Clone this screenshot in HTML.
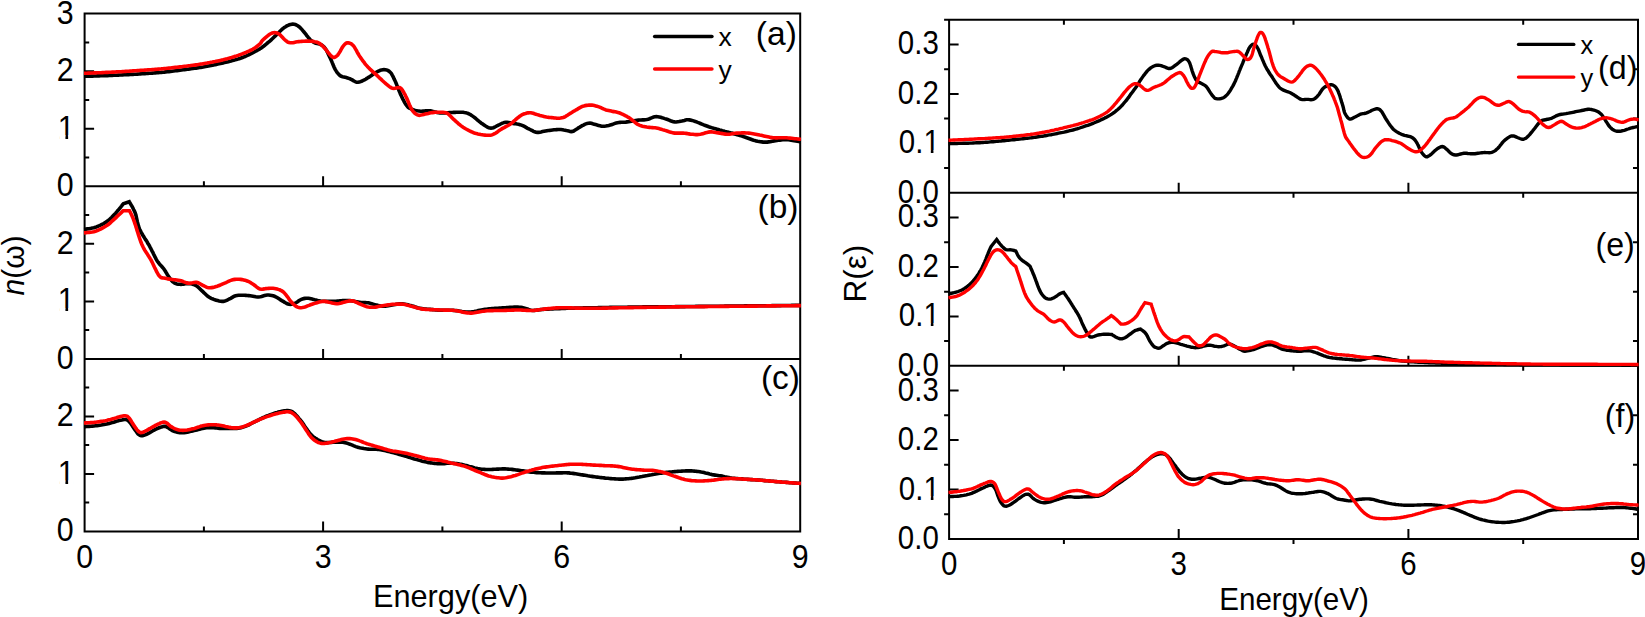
<!DOCTYPE html>
<html><head><meta charset="utf-8"><title>Optical spectra</title>
<style>html,body{margin:0;padding:0;background:#fff}svg{display:block}</style></head>
<body>
<svg width="1645" height="617" viewBox="0 0 1645 617">
<rect width="1645" height="617" fill="#fff"/>
<path d="M83.6 13.6L801.2 13.6M84.6 186.3L800.2 186.3M84.6 358.9L800.2 358.9M83.6 531.4L801.2 531.4M84.6 13.6L84.6 531.4M800.2 13.6L800.2 531.4M323.1 186.3L323.1 176.3M561.7 186.3L561.7 176.3M203.9 186.3L203.9 181.3M442.4 186.3L442.4 181.3M680.9 186.3L680.9 181.3M323.1 358.9L323.1 348.9M561.7 358.9L561.7 348.9M203.9 358.9L203.9 353.9M442.4 358.9L442.4 353.9M680.9 358.9L680.9 353.9M323.1 531.4L323.1 521.4M561.7 531.4L561.7 521.4M203.9 531.4L203.9 526.4M442.4 531.4L442.4 526.4M680.9 531.4L680.9 526.4M84.6 128.7L94.1 128.7M84.6 71.2L94.1 71.2M84.6 157.5L89.2 157.5M84.6 100.0L89.2 100.0M84.6 42.4L89.2 42.4M84.6 301.4L94.1 301.4M84.6 243.8L94.1 243.8M84.6 330.1L89.2 330.1M84.6 272.6L89.2 272.6M84.6 215.1L89.2 215.1M84.6 473.9L94.1 473.9M84.6 416.4L94.1 416.4M84.6 502.6L89.2 502.6M84.6 445.1L89.2 445.1M84.6 387.6L89.2 387.6M944.1 19.7L1639.0 19.7M949.1 192.8L1638.0 192.8M949.1 365.8L1638.0 365.8M948.1 539.1L1639.0 539.1M949.1 19.7L949.1 539.1M1638.0 19.7L1638.0 539.1M1178.7 192.8L1178.7 182.8M1408.4 192.8L1408.4 182.8M1178.7 365.8L1178.7 355.8M1408.4 365.8L1408.4 355.8M1178.7 539.1L1178.7 529.1M1408.4 539.1L1408.4 529.1M1063.9 19.7L1063.9 24.7M1293.5 19.7L1293.5 24.7M1523.2 19.7L1523.2 24.7M1063.9 192.8L1063.9 197.8M1293.5 192.8L1293.5 197.8M1523.2 192.8L1523.2 197.8M1063.9 365.8L1063.9 370.8M1293.5 365.8L1293.5 370.8M1523.2 365.8L1523.2 370.8M1063.9 539.1L1063.9 544.1M1293.5 539.1L1293.5 544.1M1523.2 539.1L1523.2 544.1M949.1 143.3L958.6 143.3M949.1 93.9L958.6 93.9M949.1 44.4L958.6 44.4M949.1 168.1L944.1 168.1M1638.0 168.1L1633.0 168.1M949.1 118.6L944.1 118.6M1638.0 118.6L1633.0 118.6M949.1 69.2L944.1 69.2M1638.0 69.2L1633.0 69.2M949.1 316.4L958.6 316.4M949.1 266.9L958.6 266.9M949.1 217.5L958.6 217.5M949.1 341.1L944.1 341.1M1638.0 341.1L1633.0 341.1M949.1 291.7L944.1 291.7M1638.0 291.7L1633.0 291.7M949.1 242.2L944.1 242.2M1638.0 242.2L1633.0 242.2M949.1 489.6L958.6 489.6M949.1 440.1L958.6 440.1M949.1 390.6L958.6 390.6M949.1 514.3L944.1 514.3M1638.0 514.3L1633.0 514.3M949.1 464.8L944.1 464.8M1638.0 464.8L1633.0 464.8M949.1 415.3L944.1 415.3M1638.0 415.3L1633.0 415.3" stroke="#000" stroke-width="2.0" fill="none"/>
<svg x="83.6" y="13.6" width="717.6" height="517.8" viewBox="83.6 13.6 717.6 517.8" overflow="hidden">
<path d="M83.9 76.4L84.0 76.4L84.8 76.3L85.8 76.3L86.9 76.3L88.2 76.2L89.5 76.2L90.9 76.1L92.5 76.1L94.1 76.0L95.7 76.0L97.4 75.9L99.1 75.9L100.8 75.8L102.6 75.8L104.3 75.7L106.0 75.6L107.6 75.6L109.2 75.5L110.7 75.4L112.2 75.4L113.7 75.3L115.2 75.2L116.7 75.2L118.2 75.1L119.7 75.0L121.1 75.0L122.6 74.9L124.1 74.8L125.6 74.8L127.1 74.7L128.6 74.6L130.1 74.5L131.6 74.4L133.0 74.4L134.5 74.3L136.0 74.2L137.5 74.1L139.0 74.0L140.5 73.9L142.0 73.8L143.4 73.7L144.9 73.6L146.4 73.5L147.9 73.4L149.4 73.3L150.9 73.2L152.4 73.1L153.8 73.0L155.3 72.9L156.8 72.8L158.3 72.6L159.8 72.5L161.3 72.4L162.8 72.2L164.2 72.1L165.7 71.9L167.3 71.8L168.9 71.6L170.4 71.4L172.0 71.2L173.7 71.0L175.3 70.8L176.9 70.6L178.5 70.4L180.0 70.2L181.6 70.0L183.1 69.8L184.5 69.6L185.9 69.4L187.3 69.2L188.6 69.1L189.8 68.9L191.0 68.7L192.9 68.5L194.5 68.3L196.0 68.1L197.3 67.9L198.5 67.7L199.7 67.5L200.8 67.4L201.9 67.2L203.1 67.0L204.4 66.7L205.7 66.5L207.0 66.3L208.4 66.0L209.7 65.7L211.1 65.5L212.4 65.2L213.7 64.9L215.1 64.6L216.4 64.4L217.7 64.1L219.1 63.8L220.4 63.5L221.8 63.2L223.1 62.9L224.4 62.6L225.8 62.3L227.1 62.0L228.4 61.7L229.8 61.3L231.1 61.0L232.4 60.6L233.8 60.3L235.1 59.9L236.5 59.5L237.8 59.1L239.1 58.7L240.5 58.3L241.8 57.8L243.1 57.3L244.5 56.7L245.9 56.2L247.3 55.5L248.7 54.8L250.1 54.1L251.6 53.4L253.0 52.7L254.3 52.0L255.6 51.3L256.8 50.6L257.9 50.0L259.4 49.2L260.5 48.4L261.6 47.7L262.5 47.0L263.6 46.2L264.8 45.3L265.8 44.5L266.8 43.6L267.8 42.7L268.9 41.8L270.1 40.8L271.2 39.8L272.3 38.8L273.4 37.7L274.5 36.7L275.6 35.7L276.7 34.6L277.8 33.5L278.9 32.4L280.0 31.3L281.1 30.2L282.2 29.2L283.2 28.3L284.3 27.5L285.6 26.7L286.8 25.9L288.1 25.3L289.4 24.8L290.5 24.5L291.7 24.2L292.8 24.1L294.1 24.2L295.4 24.5L296.5 25.0L297.7 25.7L298.8 26.5L299.9 27.4L300.9 28.4L302.0 29.6L303.0 30.8L304.0 32.0L304.9 33.1L305.8 34.2L306.6 35.3L307.4 36.3L308.2 37.4L309.0 38.3L309.8 39.2L310.7 40.1L311.7 40.9L312.6 41.6L313.6 42.3L314.7 42.8L315.8 43.2L317.1 43.5L318.3 43.7L319.6 44.0L320.7 44.5L321.8 45.1L322.8 45.8L323.7 46.6L324.6 47.6L325.6 48.9L326.2 49.9L326.8 50.9L327.4 52.1L328.0 53.4L328.6 54.7L329.2 56.0L329.8 57.3L330.5 58.6L331.1 60.0L331.7 61.4L332.3 62.9L332.9 64.3L333.5 65.8L334.1 67.2L334.7 68.4L335.3 69.6L336.1 70.9L336.9 72.1L337.7 73.2L338.5 74.1L339.3 74.9L340.2 75.7L341.3 76.3L342.6 76.7L343.9 77.0L345.1 77.3L346.3 77.6L347.5 78.0L348.7 78.4L349.9 78.8L351.1 79.3L352.2 79.9L353.3 80.6L354.5 81.3L355.6 81.9L356.7 82.2L358.0 82.3L359.3 82.1L360.6 81.6L362.1 81.0L363.2 80.5L364.4 79.9L365.6 79.2L366.9 78.4L368.1 77.6L369.4 76.9L370.6 76.1L371.8 75.2L373.0 74.3L374.2 73.5L375.4 72.7L376.7 72.0L377.9 71.4L379.1 70.8L380.4 70.3L381.6 69.9L382.8 69.7L384.0 69.6L385.3 69.7L386.5 69.9L387.7 70.4L388.9 71.1L390.0 72.0L390.8 72.8L391.5 73.8L392.1 74.9L392.8 76.1L393.5 77.5L394.1 78.9L394.9 80.5L395.4 81.6L395.9 82.8L396.5 84.2L397.0 85.5L397.6 86.9L398.1 88.4L398.7 89.8L399.3 91.2L399.9 92.6L400.4 93.9L401.0 95.1L401.6 96.5L402.3 97.9L403.0 99.3L403.7 100.6L404.3 101.9L405.0 103.1L405.7 104.2L406.4 105.2L407.1 106.0L408.2 107.3L409.4 108.1L410.6 108.7L411.8 109.2L413.1 109.7L414.5 110.2L415.8 110.5L417.3 110.8L418.8 111.0L420.4 111.2L421.7 111.2L423.0 111.1L424.4 111.1L425.8 110.9L427.3 110.9L428.7 110.8L430.2 110.9L431.5 111.1L432.9 111.4L434.2 111.8L435.6 112.1L437.0 112.5L438.5 112.8L440.0 112.9L441.2 113.0L442.5 113.0L443.9 113.0L445.2 112.9L446.6 112.8L448.0 112.7L449.4 112.6L450.8 112.5L452.2 112.5L453.5 112.4L455.0 112.4L456.4 112.3L457.8 112.3L459.2 112.2L460.6 112.2L461.9 112.3L463.2 112.3L464.3 112.5L465.8 112.7L467.1 113.1L468.2 113.5L469.3 114.0L470.4 114.6L471.6 115.4L472.6 116.1L473.7 116.9L474.8 117.7L475.9 118.7L477.0 119.6L478.1 120.5L479.1 121.4L480.1 122.2L481.4 123.2L482.7 124.1L484.0 125.0L485.2 125.8L486.4 126.5L487.4 127.1L488.8 127.7L489.9 128.0L491.0 128.1L492.3 128.0L493.4 127.7L494.6 127.1L495.8 126.5L497.0 125.8L498.4 125.1L499.5 124.6L500.7 124.0L501.9 123.4L503.2 122.9L504.4 122.4L505.7 122.2L507.1 122.2L508.5 122.4L509.9 122.7L511.4 123.1L512.9 123.4L514.3 123.6L515.7 123.8L517.1 124.1L518.6 124.3L520.0 124.7L521.5 125.1L522.7 125.6L523.9 126.2L525.2 126.9L526.4 127.6L527.6 128.3L528.8 128.9L530.0 129.5L531.2 130.1L532.4 130.7L533.5 131.3L534.7 131.8L535.9 132.2L537.3 132.4L538.5 132.4L539.8 132.2L541.1 132.0L542.5 131.6L544.0 131.3L545.5 131.0L547.0 130.7L548.3 130.5L549.6 130.4L551.0 130.2L552.5 130.0L553.9 129.8L555.4 129.7L556.7 129.6L558.0 129.5L559.1 129.5L560.9 129.5L562.5 129.7L563.8 130.0L565.1 130.2L566.4 130.5L567.7 130.7L568.9 131.1L570.1 131.4L571.2 131.6L572.5 131.4L573.7 131.0L574.8 130.3L576.0 129.5L577.3 128.7L578.5 127.8L579.8 127.1L581.0 126.4L582.2 125.7L583.4 125.1L584.7 124.4L585.9 123.9L587.2 123.4L588.3 123.2L589.9 123.1L591.3 123.3L592.8 123.8L594.2 124.2L595.6 124.6L597.1 125.0L598.5 125.4L600.0 125.8L601.5 126.2L602.9 126.3L604.4 126.3L605.8 126.1L607.3 125.8L608.8 125.5L610.2 125.1L611.4 124.8L612.6 124.3L613.7 123.9L614.9 123.4L616.2 123.0L617.5 122.7L618.8 122.5L620.1 122.4L621.5 122.3L622.9 122.2L624.4 122.2L625.8 122.1L627.2 121.9L628.6 121.7L630.0 121.5L631.4 121.2L632.8 121.0L634.2 120.7L635.6 120.4L637.0 120.2L638.3 120.1L639.7 120.0L641.1 120.0L642.5 119.9L643.9 119.9L645.3 119.7L646.7 119.5L648.1 119.2L649.5 118.7L650.9 118.1L652.2 117.6L653.6 117.1L655.0 116.8L656.4 116.6L657.8 116.7L659.2 116.9L660.6 117.2L662.1 117.7L663.4 118.1L664.8 118.6L666.1 119.0L667.6 119.5L669.1 120.1L670.5 120.7L671.9 121.2L673.3 121.7L674.7 121.9L676.2 122.0L677.7 121.8L679.2 121.6L680.6 121.2L681.9 121.0L683.2 120.7L684.4 120.4L685.6 120.0L686.8 119.8L688.0 119.8L689.3 119.9L690.6 120.1L692.0 120.4L693.5 120.9L695.3 121.5L696.5 121.9L697.7 122.4L699.0 122.9L700.4 123.5L701.8 124.1L703.2 124.7L704.7 125.3L706.1 125.8L707.5 126.3L708.8 126.8L710.2 127.2L711.5 127.6L712.9 128.1L714.2 128.4L715.6 128.8L716.9 129.2L718.3 129.6L719.6 130.0L721.0 130.3L722.3 130.7L723.7 131.0L725.0 131.4L726.4 131.7L727.7 132.1L729.1 132.4L730.4 132.8L731.8 133.1L733.1 133.5L734.5 133.9L735.8 134.3L737.2 134.7L738.5 135.1L739.9 135.5L741.2 135.9L742.6 136.3L744.0 136.8L745.3 137.2L746.7 137.7L748.1 138.2L749.5 138.7L750.9 139.2L752.2 139.7L753.6 140.2L754.9 140.6L756.1 140.9L757.6 141.3L759.1 141.5L760.4 141.8L761.8 141.9L763.1 142.1L764.5 142.1L765.8 142.1L767.2 142.1L768.6 141.9L770.0 141.7L771.4 141.4L772.8 141.1L774.2 140.9L775.6 140.7L777.0 140.5L778.4 140.3L779.9 140.1L781.3 140.0L782.7 139.8L784.0 139.7L785.3 139.7L786.9 139.7L788.4 139.8L789.8 140.0L791.2 140.2L792.6 140.4L794.1 140.7L795.8 140.9L797.4 141.2L798.8 141.5L799.9 141.6L800.9 141.8" fill="none" stroke="#000" stroke-width="3.6" stroke-linejoin="miter" stroke-miterlimit="2.5" stroke-linecap="butt"/>
<path d="M83.9 73.3L84.0 73.3L84.8 73.3L85.8 73.2L86.9 73.2L88.2 73.1L89.5 73.1L90.9 73.0L92.5 73.0L94.1 72.9L95.7 72.9L97.4 72.8L99.1 72.7L100.8 72.7L102.6 72.6L104.3 72.5L106.0 72.4L107.6 72.4L109.2 72.3L110.7 72.2L112.2 72.1L113.7 72.1L115.2 72.0L116.7 71.9L118.2 71.8L119.7 71.7L121.1 71.7L122.6 71.6L124.1 71.5L125.6 71.4L127.1 71.3L128.6 71.2L130.1 71.1L131.6 71.0L133.0 70.9L134.5 70.8L136.0 70.7L137.5 70.6L139.0 70.5L140.5 70.4L142.0 70.3L143.4 70.2L144.9 70.1L146.4 70.0L147.9 69.9L149.4 69.8L150.9 69.7L152.4 69.6L153.8 69.5L155.3 69.4L156.8 69.3L158.3 69.1L159.8 69.0L161.3 68.9L162.8 68.7L164.2 68.6L165.7 68.5L167.3 68.3L168.9 68.1L170.4 68.0L172.0 67.8L173.7 67.6L175.3 67.4L176.9 67.3L178.5 67.1L180.0 66.9L181.6 66.7L183.1 66.5L184.5 66.3L185.9 66.2L187.3 66.0L188.6 65.8L189.8 65.7L191.0 65.5L192.9 65.3L194.5 65.1L196.0 64.9L197.3 64.7L198.5 64.5L199.7 64.3L200.8 64.1L201.9 63.9L203.1 63.7L204.4 63.5L205.7 63.3L207.0 63.1L208.4 62.8L209.7 62.6L211.1 62.3L212.4 62.1L213.7 61.8L215.1 61.6L216.4 61.3L217.7 61.0L219.1 60.7L220.4 60.4L221.8 60.1L223.1 59.8L224.4 59.4L225.8 59.1L227.1 58.8L228.4 58.4L229.8 58.0L231.1 57.6L232.5 57.2L233.9 56.8L235.3 56.3L236.7 55.9L238.1 55.4L239.4 54.9L240.8 54.4L242.1 53.9L243.3 53.4L244.5 53.0L246.1 52.3L247.5 51.7L248.9 51.1L250.2 50.5L251.5 49.9L252.7 49.2L253.8 48.5L255.2 47.7L256.5 46.7L257.7 45.8L258.8 44.8L259.7 44.0L260.5 43.2L261.3 42.2L261.5 41.5L262.4 40.4L263.1 39.7L264.1 38.8L265.2 37.8L266.4 36.8L267.6 35.8L268.7 35.0L269.7 34.3L271.1 33.5L272.2 33.0L273.4 32.7L274.5 32.6L275.7 32.7L276.9 33.0L278.1 33.5L279.4 34.3L280.3 35.1L281.4 36.2L282.4 37.3L283.5 38.5L284.5 39.5L285.5 40.4L286.7 41.3L287.8 42.1L288.9 42.6L290.3 42.8L291.5 42.8L292.9 42.7L294.3 42.4L295.8 42.1L297.3 41.8L298.8 41.6L300.2 41.5L301.6 41.4L303.0 41.3L304.4 41.2L305.8 41.1L307.2 41.1L308.6 41.1L310.1 41.2L311.6 41.3L313.1 41.4L314.5 41.7L315.8 41.9L317.1 42.3L318.5 42.9L319.7 43.6L320.8 44.5L322.0 45.4L323.2 46.5L324.0 47.4L325.0 48.4L325.9 49.6L326.8 50.7L327.6 51.9L328.5 52.9L329.2 53.8L330.4 55.1L331.4 56.2L332.4 57.0L333.4 57.4L334.4 57.4L335.4 57.0L336.5 56.2L337.8 55.0L338.4 54.1L339.2 52.9L340.0 51.6L340.8 50.1L341.6 48.7L342.4 47.3L343.1 46.2L343.8 45.3L345.0 44.0L346.1 43.2L347.1 42.9L348.2 42.8L349.2 43.0L350.2 43.4L351.3 43.9L352.4 44.8L353.6 46.0L354.3 46.9L355.0 48.1L355.7 49.3L356.5 50.7L357.2 52.1L358.0 53.5L358.8 54.9L359.6 56.2L360.4 57.3L361.1 58.4L361.9 59.5L362.7 60.6L363.5 61.7L364.3 62.7L365.1 63.8L366.0 64.9L366.9 65.9L367.9 67.0L368.9 68.0L370.0 69.1L371.1 70.1L372.2 71.1L373.3 72.1L374.4 73.1L375.6 74.2L376.7 75.2L377.8 76.2L378.9 77.3L380.0 78.4L381.2 79.4L382.3 80.5L383.4 81.5L384.5 82.5L385.5 83.4L386.4 84.2L387.9 85.4L389.1 86.4L390.3 87.2L391.4 87.8L392.5 88.3L393.8 88.5L395.0 88.3L396.2 88.0L397.3 87.8L398.6 87.6L399.7 87.5L401.0 88.3L401.6 89.0L402.2 89.9L402.9 90.9L403.6 92.1L404.3 93.4L405.1 94.8L405.8 96.3L406.4 97.5L407.0 98.8L407.6 100.2L408.2 101.7L408.8 103.2L409.4 104.7L410.1 106.1L410.7 107.4L411.3 108.7L411.9 109.7L412.9 111.1L413.9 112.3L414.9 113.3L415.9 114.0L416.9 114.6L418.0 115.0L419.4 115.3L420.8 115.1L422.3 114.8L423.8 114.4L425.3 114.1L426.7 113.8L428.2 113.5L429.7 113.1L431.1 112.8L432.6 112.6L434.1 112.4L435.5 112.3L437.0 112.2L438.5 112.2L440.0 112.2L441.5 112.3L442.9 112.3L444.4 112.5L445.8 112.8L447.3 113.4L448.3 114.1L449.3 114.9L450.3 115.9L451.3 117.0L452.3 118.1L453.4 119.2L454.6 120.2L455.6 121.1L456.5 121.9L457.6 122.8L458.6 123.8L459.7 124.7L460.8 125.6L461.9 126.4L463.1 127.3L464.3 128.0L465.6 128.8L466.9 129.5L468.2 130.2L469.6 130.9L470.9 131.5L472.3 132.1L473.7 132.7L475.1 133.2L476.5 133.6L477.9 134.0L479.3 134.3L480.8 134.6L482.2 134.8L483.6 135.0L485.0 135.1L486.3 135.2L487.5 135.3L488.6 135.3L490.2 135.2L491.5 135.0L492.6 134.6L493.6 134.2L494.7 133.6L495.9 133.0L497.0 132.2L498.1 131.4L499.3 130.4L500.8 129.5L501.8 128.9L503.0 128.2L504.2 127.6L505.4 126.9L506.7 126.2L508.0 125.5L509.3 124.7L510.5 123.9L511.6 123.1L512.8 122.2L513.9 121.2L515.1 120.2L516.2 119.2L517.3 118.2L518.4 117.3L519.4 116.5L520.2 115.9L521.9 114.8L523.2 114.2L524.4 113.8L525.6 113.5L526.9 113.1L528.0 112.9L529.3 112.7L530.8 112.8L531.9 113.0L533.2 113.3L534.5 113.8L535.9 114.2L537.2 114.6L538.6 115.0L539.9 115.4L541.2 115.7L542.5 116.1L543.8 116.4L545.1 116.7L546.4 117.0L547.7 117.2L549.0 117.4L550.4 117.5L551.7 117.6L553.0 117.8L554.1 117.9L555.6 118.0L556.9 118.2L558.1 118.3L559.3 118.3L560.6 118.1L561.9 117.8L563.2 117.5L564.5 117.0L565.5 116.5L566.5 115.8L567.5 115.2L568.6 114.4L569.7 113.7L570.7 113.1L571.8 112.5L572.9 111.8L574.0 111.1L575.1 110.5L576.2 109.8L577.5 109.1L578.7 108.3L580.0 107.6L581.3 106.9L582.7 106.3L583.9 106.0L585.2 105.6L586.5 105.4L587.8 105.2L589.1 105.1L590.5 105.0L591.8 105.1L593.1 105.3L594.4 105.6L595.7 105.9L597.0 106.2L598.2 106.6L599.6 107.1L600.9 107.7L602.2 108.3L603.4 108.9L604.7 109.4L606.0 109.9L607.3 110.2L608.6 110.5L609.9 110.8L611.2 111.1L612.5 111.4L613.8 111.6L615.1 111.8L616.4 112.1L617.7 112.4L619.0 112.8L620.3 113.3L621.6 113.8L622.9 114.4L624.2 115.0L625.2 115.6L626.3 116.1L627.3 116.8L628.4 117.4L629.5 118.1L630.7 118.9L631.7 119.7L632.8 120.5L633.9 121.5L635.0 122.4L636.1 123.3L637.3 124.1L638.4 124.7L639.8 125.4L641.1 125.8L642.4 126.2L643.8 126.5L645.2 126.8L646.7 127.1L648.0 127.3L649.4 127.4L650.9 127.5L652.3 127.6L653.8 127.7L655.1 127.8L656.4 128.0L657.7 128.3L658.9 128.6L660.1 128.9L661.2 129.2L662.4 129.6L663.7 130.0L665.0 130.4L666.3 130.8L667.7 131.3L669.1 131.8L670.6 132.2L672.0 132.6L673.4 132.9L674.8 133.1L676.2 133.1L677.6 133.1L679.0 133.1L680.4 133.1L681.8 133.1L683.2 133.1L684.6 133.3L686.0 133.4L687.5 133.6L688.9 133.9L690.3 134.1L691.6 134.2L692.9 134.3L694.5 134.5L695.9 134.6L697.2 134.6L698.6 134.5L700.2 134.3L701.4 134.1L702.8 133.7L704.2 133.3L705.6 132.8L707.1 132.4L708.5 132.1L709.9 131.9L711.3 131.9L712.7 132.0L714.1 132.2L715.6 132.4L716.9 132.7L718.3 132.9L719.6 133.1L721.1 133.4L722.6 133.6L724.0 133.9L725.4 134.1L726.7 134.3L728.1 134.3L729.5 134.3L730.8 134.1L732.2 133.8L733.5 133.5L735.0 133.3L736.7 133.1L737.8 133.1L739.1 133.0L740.4 133.0L741.8 132.9L743.2 132.9L744.6 132.9L746.0 133.0L747.4 133.0L748.8 133.1L750.2 133.3L751.5 133.5L752.9 133.7L754.2 133.9L755.6 134.2L756.9 134.5L758.3 134.8L759.6 135.1L761.0 135.3L762.3 135.6L763.7 135.9L765.0 136.2L766.4 136.5L767.7 136.8L769.1 137.1L770.4 137.4L771.8 137.6L773.1 137.8L774.5 137.8L775.8 137.9L777.1 137.9L778.4 137.8L779.7 137.8L781.1 137.7L782.4 137.7L783.8 137.7L785.3 137.8L786.7 137.8L788.3 138.0L789.9 138.1L791.6 138.3L793.3 138.5L794.9 138.7L796.4 138.8L797.8 139.0L799.0 139.1L799.9 139.2L800.9 139.3" fill="none" stroke="#f00" stroke-width="3.6" stroke-linejoin="miter" stroke-miterlimit="2.5" stroke-linecap="butt"/>
<path d="M83.9 229.5L84.0 229.5L84.9 229.3L86.0 229.1L87.4 228.9L89.0 228.7L90.6 228.4L92.2 228.1L93.9 227.8L95.4 227.3L96.6 226.8L97.9 226.3L99.3 225.7L100.6 225.1L101.9 224.4L103.2 223.8L104.4 223.1L105.6 222.4L106.7 221.6L107.9 220.8L108.9 220.0L109.9 219.1L110.9 218.2L111.8 217.3L112.7 216.3L113.6 215.3L114.6 214.3L115.7 213.2L116.8 211.8L118.1 210.3L119.3 208.8L120.5 207.4L121.6 206.0L122.4 204.9L123.0 204.1L123.2 203.9L129.2 201.7L129.3 201.9L129.7 202.6L130.3 203.5L131.1 204.8L131.9 206.2L132.8 207.8L133.6 209.5L134.4 211.1L135.1 212.7L135.5 213.9L135.9 215.1L136.2 216.4L136.5 217.8L136.8 219.2L137.1 220.6L137.4 222.0L137.8 223.5L138.2 224.9L138.6 226.4L139.1 227.8L139.6 229.2L140.2 230.4L140.8 231.7L141.5 233.0L142.3 234.3L143.0 235.5L143.8 236.8L144.6 238.1L145.4 239.4L146.3 240.6L147.1 241.9L147.8 243.2L148.6 244.4L149.3 245.6L150.0 247.0L150.7 248.3L151.4 249.7L152.1 251.1L152.8 252.4L153.4 253.8L154.1 255.1L154.7 256.4L155.4 257.6L156.0 258.8L156.6 259.9L157.2 260.9L158.1 262.2L159.0 263.4L159.9 264.5L160.8 265.4L161.6 266.3L162.4 267.2L163.2 268.1L163.9 269.0L164.7 270.2L165.4 271.3L166.1 272.5L166.8 273.6L167.4 274.8L168.1 275.8L168.8 276.8L169.7 278.1L170.6 279.4L171.6 280.5L172.6 281.6L173.6 282.4L174.7 283.1L175.8 283.6L176.9 283.9L178.2 284.2L179.7 284.3L180.9 284.4L182.3 284.2L183.7 284.1L185.2 283.8L186.7 283.7L188.1 283.6L189.4 283.6L190.8 283.8L192.1 284.1L193.3 284.4L194.5 284.9L195.6 285.4L196.7 286.0L197.8 286.8L198.8 287.7L199.8 288.7L200.8 289.7L201.8 290.7L202.8 291.6L203.8 292.6L204.8 293.5L205.8 294.5L206.8 295.4L207.8 296.2L208.9 297.0L210.0 297.7L211.2 298.3L212.4 298.8L213.7 299.3L214.9 299.8L216.2 300.2L217.6 300.6L219.1 301.0L220.6 301.2L222.1 301.4L223.5 301.4L224.8 301.1L226.0 300.7L227.2 300.1L228.3 299.5L229.5 298.9L230.7 298.3L231.9 297.6L233.1 296.9L234.3 296.2L235.6 295.8L237.0 295.5L238.5 295.3L239.9 295.3L241.4 295.3L242.9 295.3L244.4 295.3L245.8 295.4L247.2 295.5L248.7 295.6L250.2 295.8L251.6 296.0L253.0 296.2L254.4 296.5L255.8 296.8L257.3 297.0L258.7 297.0L260.2 296.8L261.6 296.5L263.1 296.0L264.5 295.6L265.9 295.2L267.2 295.0L268.8 295.0L270.2 295.2L271.7 295.4L273.1 295.8L274.5 296.3L275.7 296.8L277.0 297.5L278.2 298.3L279.4 299.1L280.6 299.9L281.8 300.6L283.1 301.3L284.3 302.1L285.5 302.8L286.8 303.5L288.0 304.0L289.1 304.3L290.4 304.4L291.6 304.3L292.8 304.0L294.0 303.5L295.2 303.1L296.4 302.5L297.6 301.7L298.8 300.8L300.1 300.0L301.3 299.4L302.5 299.0L303.7 298.6L304.9 298.4L306.1 298.3L307.4 298.2L308.6 298.3L309.7 298.5L310.9 298.8L312.1 299.1L313.4 299.4L314.7 299.8L316.0 300.1L317.4 300.5L318.9 300.9L320.7 301.1L321.9 301.2L323.2 301.3L324.5 301.3L325.9 301.4L327.4 301.4L328.8 301.4L330.3 301.4L331.6 301.4L332.9 301.4L334.4 301.3L335.9 301.2L337.4 301.1L338.7 301.0L340.1 300.8L341.4 300.7L342.6 300.6L344.2 300.6L345.6 300.5L346.9 300.5L348.3 300.5L349.9 300.6L351.2 300.8L352.5 301.0L354.0 301.3L355.4 301.6L356.9 301.9L358.3 302.1L359.6 302.3L361.1 302.5L362.6 302.5L364.0 302.6L365.4 302.6L366.8 302.7L368.1 302.8L369.4 303.1L370.6 303.4L371.8 303.7L373.0 304.1L374.2 304.5L375.4 304.8L376.8 305.1L378.1 305.4L379.5 305.7L381.0 306.0L382.4 306.2L384.0 306.2L385.3 306.2L386.7 306.0L388.2 305.8L389.6 305.5L391.0 305.2L392.4 305.0L393.7 304.8L395.3 304.5L396.7 304.2L398.0 304.0L399.4 303.8L401.0 303.8L402.2 303.9L403.6 304.1L405.0 304.3L406.4 304.5L407.8 304.8L409.3 305.2L410.7 305.5L412.1 305.9L413.4 306.3L414.7 306.8L416.1 307.2L417.5 307.7L418.9 308.1L420.4 308.4L421.7 308.6L423.1 308.8L424.5 309.0L425.9 309.1L427.4 309.2L428.8 309.3L430.2 309.4L431.4 309.5L432.6 309.6L434.3 309.8L435.5 309.9L436.7 310.0L438.1 310.1L440.0 310.2L441.2 310.2L442.5 310.3L444.0 310.3L445.6 310.3L447.2 310.3L448.8 310.3L450.3 310.3L451.9 310.3L453.3 310.4L454.6 310.5L456.3 310.6L457.8 310.8L459.2 311.1L460.6 311.3L461.9 311.6L463.1 311.8L464.3 311.9L465.9 312.0L467.3 312.1L468.6 312.1L470.0 312.1L471.6 311.9L472.9 311.7L474.1 311.5L475.5 311.2L476.9 310.9L478.3 310.5L479.8 310.2L481.3 310.0L482.6 309.8L483.8 309.6L485.1 309.4L486.4 309.3L487.8 309.1L489.2 308.9L490.6 308.8L492.0 308.6L493.5 308.5L494.9 308.4L496.3 308.3L497.8 308.2L499.4 308.1L500.9 308.0L502.5 307.9L504.0 307.8L505.4 307.7L506.8 307.6L508.1 307.5L509.8 307.4L511.3 307.3L512.7 307.2L514.1 307.1L515.4 307.1L516.6 307.0L517.8 307.1L519.4 307.2L520.9 307.4L522.3 307.6L523.7 307.9L525.1 308.3L526.3 308.6L527.4 309.0L528.6 309.5L529.8 309.9L531.0 310.3L532.4 310.5L533.6 310.5L534.7 310.4L535.9 310.3L537.2 310.1L538.6 309.9L540.2 309.6L542.1 309.5L543.3 309.4L544.5 309.3L545.8 309.3L547.1 309.2L548.5 309.1L549.9 309.0L551.4 308.9L552.9 308.9L554.6 308.8L556.2 308.7L558.0 308.6L559.7 308.6L561.6 308.5L562.8 308.5L564.0 308.4L565.3 308.4L566.6 308.3L567.8 308.3L569.2 308.3L570.5 308.2L571.9 308.2L573.2 308.2L574.7 308.1L576.1 308.1L577.6 308.1L579.1 308.0L580.6 308.0L582.2 308.0L583.8 307.9L585.5 307.9L587.2 307.9L589.0 307.8L590.8 307.8L592.0 307.8L593.2 307.7L594.5 307.7L595.8 307.7L597.2 307.7L598.5 307.6L599.9 307.6L601.3 307.6L602.7 307.6L604.1 307.5L605.5 307.5L607.0 307.5L608.5 307.5L609.9 307.4L611.4 307.4L612.9 307.4L614.4 307.4L616.0 307.3L617.5 307.3L619.0 307.3L620.6 307.3L622.1 307.2L623.7 307.2L625.2 307.2L626.8 307.2L628.3 307.1L629.9 307.1L631.4 307.1L633.0 307.1L634.5 307.1L635.9 307.0L637.3 307.0L638.8 307.0L640.2 307.0L641.6 307.0L643.1 306.9L644.5 306.9L646.0 306.9L647.4 306.9L648.9 306.9L650.4 306.9L651.9 306.9L653.3 306.8L654.8 306.8L656.3 306.8L657.8 306.8L659.3 306.8L660.8 306.8L662.3 306.8L663.8 306.7L665.3 306.7L666.8 306.7L668.3 306.7L669.8 306.7L671.3 306.7L672.8 306.7L674.3 306.7L675.7 306.6L677.2 306.6L678.7 306.6L680.2 306.6L681.7 306.6L683.2 306.6L684.6 306.6L686.1 306.5L687.5 306.5L688.9 306.5L690.3 306.5L691.7 306.5L693.1 306.5L694.5 306.5L695.9 306.4L697.3 306.4L698.7 306.4L700.0 306.4L701.4 306.4L702.8 306.4L704.2 306.4L705.6 306.3L707.0 306.3L708.4 306.3L709.8 306.3L711.2 306.3L712.7 306.3L714.1 306.3L715.6 306.2L717.1 306.2L718.7 306.2L720.2 306.2L721.8 306.2L723.4 306.2L725.0 306.1L726.6 306.1L728.3 306.1L730.0 306.1L731.8 306.1L733.1 306.1L734.4 306.1L735.8 306.0L737.2 306.0L738.7 306.0L740.2 306.0L741.7 306.0L743.3 306.0L744.9 305.9L746.5 305.9L748.2 305.9L749.9 305.9L751.5 305.9L753.2 305.9L755.0 305.8L756.7 305.8L758.4 305.8L760.2 305.8L761.9 305.8L763.6 305.7L765.4 305.7L767.1 305.7L768.8 305.7L770.5 305.7L772.2 305.6L773.9 305.6L775.6 305.6L777.2 305.6L778.8 305.6L780.4 305.6L781.9 305.5L783.5 305.5L785.0 305.5L786.4 305.5L787.8 305.5L789.2 305.5L790.5 305.5L791.8 305.4L793.0 305.4L794.2 305.4L795.3 305.4L796.3 305.4L797.3 305.4L798.2 305.4L799.1 305.4L799.9 305.3L800.9 305.3" fill="none" stroke="#000" stroke-width="3.6" stroke-linejoin="miter" stroke-miterlimit="2.5" stroke-linecap="butt"/>
<path d="M83.9 232.9L84.0 232.9L84.9 232.8L86.0 232.7L87.4 232.5L89.0 232.4L90.6 232.2L92.2 232.0L93.9 231.7L95.4 231.3L96.6 230.8L97.9 230.3L99.3 229.7L100.6 229.1L101.9 228.4L103.2 227.7L104.4 227.0L105.6 226.3L106.7 225.6L108.0 224.7L109.2 223.8L110.3 222.8L111.4 221.8L112.4 220.8L113.5 219.8L114.6 218.8L115.8 217.8L117.1 216.5L118.5 215.2L119.9 214.0L121.2 212.8L122.2 211.7L122.9 210.9L123.2 210.7L129.4 210.7L129.5 210.9L129.8 211.4L130.3 212.3L130.9 213.5L131.6 215.0L132.4 216.7L133.2 218.6L133.9 220.6L134.3 221.7L134.7 222.9L135.1 224.1L135.6 225.5L136.0 226.9L136.5 228.4L136.9 229.9L137.4 231.4L137.9 233.0L138.4 234.6L138.9 236.1L139.4 237.7L139.9 239.2L140.4 240.6L140.9 242.0L141.4 243.3L141.9 244.5L142.6 246.0L143.2 247.3L143.9 248.6L144.6 249.9L145.3 251.1L146.1 252.2L146.8 253.3L147.5 254.4L148.2 255.5L148.9 256.6L149.6 257.7L150.3 258.9L151.0 260.0L151.7 261.4L152.4 262.8L153.1 264.2L153.8 265.7L154.5 267.2L155.2 268.6L155.9 270.0L156.5 271.4L157.2 272.6L157.8 273.7L158.4 274.7L159.0 275.6L160.4 277.0L161.5 277.7L162.7 277.9L163.8 278.0L165.1 278.3L166.5 278.6L167.9 278.9L169.4 279.1L170.9 279.3L172.4 279.5L173.8 279.7L175.3 279.8L176.7 280.0L178.2 280.2L179.7 280.5L181.0 280.8L182.4 281.3L183.9 281.9L185.3 282.4L186.8 282.9L188.2 283.1L189.7 283.2L191.1 283.0L192.6 282.8L194.1 282.5L195.4 282.4L196.7 282.4L198.1 282.8L199.3 283.3L200.5 284.0L201.6 284.7L202.8 285.3L204.0 285.9L205.2 286.5L206.4 287.1L207.6 287.5L208.9 287.8L210.2 287.8L211.6 287.6L213.1 287.4L214.6 287.0L216.2 286.5L217.3 286.2L218.5 285.7L219.8 285.2L221.1 284.7L222.3 284.1L223.5 283.6L224.7 283.1L226.0 282.6L227.2 282.0L228.4 281.4L229.6 280.8L230.8 280.4L232.0 280.0L233.4 279.6L234.8 279.4L236.3 279.2L237.7 279.2L239.3 279.2L240.6 279.4L242.1 279.6L243.6 279.9L245.1 280.3L246.5 280.7L247.8 281.2L249.2 281.8L250.4 282.5L251.5 283.3L252.7 284.0L253.9 284.8L255.1 285.7L256.2 286.7L257.4 287.6L258.6 288.4L259.9 289.0L261.3 289.2L262.8 289.1L264.3 288.9L265.8 288.6L267.2 288.5L268.7 288.4L270.2 288.3L271.6 288.3L273.1 288.3L274.5 288.5L275.8 288.7L277.1 289.0L278.3 289.4L279.6 289.8L280.7 290.3L281.8 290.9L283.0 291.7L283.9 292.6L284.9 293.6L285.8 294.7L286.7 295.8L287.5 296.8L288.3 297.9L289.0 299.1L289.8 300.2L290.7 301.3L291.6 302.3L292.5 303.3L293.5 304.3L294.5 305.2L295.6 306.0L296.6 306.7L297.6 307.2L298.8 307.6L299.9 307.7L301.0 307.7L302.3 307.5L303.7 307.2L304.9 306.9L306.2 306.5L307.6 305.9L309.1 305.4L310.5 304.8L312.0 304.3L313.4 303.8L314.8 303.4L316.3 302.9L317.7 302.5L319.2 302.1L320.6 301.8L321.9 301.5L323.2 301.4L324.8 301.4L326.3 301.6L327.7 301.9L329.0 302.3L330.5 302.6L331.9 302.9L333.4 303.2L334.8 303.5L336.3 303.8L337.8 303.8L339.0 303.6L340.2 303.3L341.4 303.0L342.6 302.5L343.8 302.2L345.0 301.9L346.5 301.5L348.0 301.2L349.4 300.9L350.9 300.8L352.3 300.9L353.6 301.1L354.8 301.6L356.0 302.1L357.2 302.7L358.4 303.3L359.6 303.8L360.9 304.3L362.1 304.9L363.3 305.4L364.5 305.9L365.7 306.4L366.9 306.7L368.4 307.0L369.7 307.2L371.1 307.3L372.6 307.3L374.2 307.2L375.5 307.1L376.8 306.9L378.2 306.6L379.7 306.3L381.1 306.0L382.5 305.7L384.0 305.5L385.3 305.3L386.7 305.1L388.1 304.9L389.5 304.7L390.9 304.5L392.3 304.4L393.7 304.3L395.1 304.2L396.5 304.1L397.8 304.1L399.2 304.1L400.6 304.1L402.0 304.1L403.4 304.3L404.8 304.5L406.2 304.8L407.6 305.2L409.0 305.5L410.4 306.0L411.7 306.3L413.1 306.7L414.5 307.1L415.9 307.5L417.3 307.9L418.7 308.2L420.1 308.6L421.5 308.9L422.9 309.1L424.3 309.3L425.7 309.4L427.1 309.5L428.6 309.5L430.0 309.6L431.3 309.6L432.6 309.6L434.1 309.7L435.4 309.8L436.6 309.8L438.1 309.9L440.0 310.0L441.2 310.0L442.5 310.0L444.0 310.1L445.6 310.1L447.2 310.1L448.8 310.1L450.3 310.2L451.9 310.3L453.3 310.3L454.6 310.5L456.3 310.7L457.8 310.9L459.2 311.3L460.6 311.6L461.9 311.9L463.1 312.2L464.3 312.4L465.9 312.7L467.4 312.9L468.8 313.0L470.2 313.1L471.6 313.1L473.0 313.0L474.4 312.8L475.8 312.5L477.3 312.2L478.9 311.9L480.1 311.7L481.4 311.5L482.6 311.3L484.0 311.2L485.4 311.0L487.0 310.8L488.6 310.7L489.9 310.6L491.2 310.6L492.7 310.6L494.1 310.5L495.6 310.5L497.2 310.5L498.7 310.5L500.2 310.5L501.7 310.5L503.2 310.5L504.7 310.4L506.1 310.4L507.6 310.3L509.1 310.2L510.5 310.2L512.0 310.1L513.4 310.1L514.9 310.0L516.4 310.0L517.8 310.0L519.3 310.0L520.7 310.0L522.2 310.1L523.6 310.2L525.1 310.3L526.6 310.4L528.0 310.4L529.5 310.5L530.9 310.5L532.4 310.5L533.9 310.4L535.3 310.2L536.8 310.1L538.2 309.9L539.7 309.7L541.2 309.5L542.6 309.3L544.1 309.1L545.5 308.9L547.0 308.8L548.4 308.6L549.7 308.5L550.9 308.4L552.1 308.2L553.4 308.1L554.7 308.0L556.1 307.9L557.7 307.9L559.5 307.8L561.6 307.8L562.7 307.8L563.8 307.8L565.0 307.8L566.2 307.8L567.5 307.8L568.8 307.9L570.1 307.9L571.5 307.9L572.9 308.0L574.3 308.0L575.8 308.1L577.3 308.1L578.9 308.1L580.5 308.2L582.1 308.2L583.8 308.2L585.5 308.2L587.2 308.3L589.0 308.3L590.8 308.3L592.0 308.3L593.2 308.3L594.5 308.2L595.8 308.2L597.2 308.2L598.5 308.2L599.9 308.2L601.3 308.2L602.7 308.1L604.1 308.1L605.5 308.1L607.0 308.1L608.5 308.0L609.9 308.0L611.4 308.0L612.9 307.9L614.4 307.9L616.0 307.9L617.5 307.9L619.0 307.8L620.6 307.8L622.1 307.8L623.7 307.7L625.2 307.7L626.8 307.7L628.3 307.6L629.9 307.6L631.4 307.6L633.0 307.6L634.5 307.5L635.9 307.5L637.3 307.5L638.8 307.5L640.2 307.4L641.6 307.4L643.1 307.4L644.5 307.4L646.0 307.4L647.4 307.3L648.9 307.3L650.4 307.3L651.9 307.3L653.3 307.2L654.8 307.2L656.3 307.2L657.8 307.2L659.3 307.1L660.8 307.1L662.3 307.1L663.8 307.1L665.3 307.1L666.8 307.0L668.3 307.0L669.8 307.0L671.3 307.0L672.8 306.9L674.3 306.9L675.7 306.9L677.2 306.9L678.7 306.9L680.2 306.8L681.7 306.8L683.2 306.8L684.6 306.8L686.1 306.8L687.5 306.8L688.9 306.7L690.3 306.7L691.7 306.7L693.1 306.7L694.5 306.7L695.9 306.7L697.3 306.7L698.7 306.6L700.0 306.6L701.4 306.6L702.8 306.6L704.2 306.6L705.6 306.6L707.0 306.6L708.4 306.5L709.8 306.5L711.2 306.5L712.7 306.5L714.1 306.5L715.6 306.5L717.1 306.5L718.7 306.5L720.2 306.4L721.8 306.4L723.4 306.4L725.0 306.4L726.6 306.4L728.3 306.4L730.0 306.3L731.8 306.3L733.1 306.3L734.4 306.3L735.8 306.3L737.2 306.3L738.7 306.2L740.2 306.2L741.7 306.2L743.3 306.2L744.9 306.2L746.5 306.2L748.2 306.1L749.9 306.1L751.5 306.1L753.2 306.1L755.0 306.1L756.7 306.1L758.4 306.0L760.2 306.0L761.9 306.0L763.6 306.0L765.4 306.0L767.1 305.9L768.8 305.9L770.5 305.9L772.2 305.9L773.9 305.9L775.6 305.9L777.2 305.8L778.8 305.8L780.4 305.8L781.9 305.8L783.5 305.8L785.0 305.8L786.4 305.7L787.8 305.7L789.2 305.7L790.5 305.7L791.8 305.7L793.0 305.7L794.2 305.7L795.3 305.6L796.3 305.6L797.3 305.6L798.2 305.6L799.1 305.6L799.9 305.6L800.9 305.6" fill="none" stroke="#f00" stroke-width="3.6" stroke-linejoin="miter" stroke-miterlimit="2.5" stroke-linecap="butt"/>
<path d="M83.9 426.7L84.4 426.7L85.3 426.6L86.4 426.5L87.7 426.4L89.2 426.4L90.8 426.2L92.4 426.1L94.0 426.0L95.6 425.8L97.0 425.7L98.4 425.5L99.8 425.3L101.2 425.1L102.6 424.8L104.0 424.6L105.3 424.3L106.7 424.0L107.9 423.7L109.2 423.4L110.7 423.0L112.2 422.6L113.7 422.2L115.1 421.7L116.4 421.3L117.7 420.9L118.9 420.6L120.5 420.2L122.0 419.9L123.3 419.6L124.6 419.5L125.7 419.5L126.9 419.9L127.9 420.4L128.8 421.2L129.8 422.3L130.6 423.3L131.4 424.4L132.3 425.7L133.1 427.0L133.9 428.3L134.7 429.4L135.6 430.6L136.4 431.8L137.2 432.9L138.0 433.9L138.8 434.6L140.1 435.4L141.2 435.8L142.7 435.7L143.9 435.4L145.1 434.9L146.5 434.3L147.9 433.6L149.3 432.9L150.5 432.2L151.7 431.5L152.9 430.8L154.1 430.1L155.4 429.4L156.6 428.8L157.9 428.3L159.2 427.8L160.5 427.3L161.7 426.9L162.9 426.6L163.9 426.4L165.3 426.4L166.4 426.8L167.5 427.4L168.6 428.1L169.8 428.9L171.1 429.8L172.4 430.6L173.5 431.1L174.7 431.5L175.9 431.9L177.2 432.3L178.5 432.5L179.8 432.7L181.2 432.8L182.6 432.8L184.1 432.7L185.8 432.5L187.0 432.3L188.4 432.0L189.8 431.6L191.2 431.3L192.7 430.9L194.1 430.6L195.5 430.2L196.9 429.9L198.3 429.5L199.7 429.2L201.1 428.8L202.5 428.5L203.9 428.2L205.2 428.0L206.7 427.8L208.2 427.7L209.6 427.7L211.0 427.7L212.4 427.7L213.7 427.8L215.3 427.9L216.7 428.0L218.2 428.2L219.6 428.4L221.0 428.4L222.5 428.5L223.9 428.5L225.3 428.4L226.8 428.4L228.3 428.4L229.7 428.4L231.1 428.4L232.5 428.5L234.0 428.5L235.4 428.5L236.8 428.4L238.2 428.2L239.6 428.0L241.0 427.7L242.4 427.3L243.9 426.9L245.3 426.4L246.5 425.9L247.7 425.4L248.9 424.8L250.1 424.1L251.4 423.5L252.6 422.8L253.9 422.2L255.1 421.6L256.3 421.0L257.5 420.4L258.7 419.8L259.9 419.2L261.2 418.6L262.4 418.0L263.6 417.5L264.8 416.9L266.2 416.3L267.7 415.8L269.1 415.2L270.5 414.7L271.9 414.2L273.3 413.7L274.5 413.3L275.9 412.8L277.2 412.5L278.4 412.1L279.6 411.8L280.7 411.6L281.8 411.3L283.1 411.1L284.3 410.9L285.5 410.7L286.7 410.6L287.9 410.6L289.1 410.7L290.3 410.9L291.5 411.4L292.7 412.1L294.0 413.1L294.9 413.9L295.9 414.9L296.9 415.9L297.9 417.1L298.8 418.3L299.8 419.5L300.8 420.7L301.6 421.7L302.5 422.9L303.3 424.0L304.1 425.3L304.9 426.5L305.8 427.7L306.6 428.9L307.4 430.0L308.2 431.2L309.1 432.4L310.0 433.5L310.9 434.4L311.7 435.3L312.6 436.1L313.4 436.8L314.4 437.6L315.5 438.3L316.5 438.9L317.5 439.5L318.5 440.0L319.5 440.5L320.7 441.1L321.9 441.6L323.1 442.0L324.3 442.3L325.6 442.5L326.9 442.6L328.3 442.6L329.7 442.5L331.3 442.4L332.9 442.3L334.2 442.2L335.6 442.2L337.0 442.1L338.5 442.1L339.9 442.1L341.3 442.1L342.6 442.2L344.0 442.4L345.2 442.7L346.4 443.0L347.6 443.4L348.7 443.8L349.9 444.2L351.1 444.6L352.3 445.1L353.4 445.6L354.6 446.1L355.8 446.6L357.2 447.1L358.4 447.4L359.7 447.8L361.1 448.1L362.5 448.3L363.9 448.6L365.4 448.8L366.9 449.0L368.2 449.1L369.5 449.2L370.8 449.2L372.2 449.2L373.6 449.2L374.9 449.2L376.3 449.3L377.7 449.4L379.1 449.5L380.4 449.7L381.8 449.9L383.1 450.2L384.5 450.5L385.8 450.8L387.2 451.2L388.5 451.5L389.9 451.8L391.2 452.2L392.6 452.5L393.9 452.9L395.3 453.3L396.6 453.6L398.0 454.0L399.4 454.4L400.7 454.8L402.1 455.2L403.4 455.6L404.8 456.0L406.1 456.4L407.5 456.8L408.8 457.2L410.2 457.6L411.5 458.1L412.9 458.5L414.2 458.9L415.6 459.2L416.9 459.6L418.3 460.0L419.6 460.4L421.0 460.8L422.3 461.2L423.7 461.5L425.0 461.8L426.4 462.1L427.7 462.4L429.1 462.6L430.5 462.9L431.9 463.0L433.3 463.2L434.7 463.4L436.1 463.5L437.4 463.6L438.7 463.7L440.0 463.7L441.5 463.7L443.0 463.7L444.3 463.6L445.7 463.4L447.0 463.3L448.4 463.2L449.7 463.2L451.1 463.2L452.5 463.3L453.9 463.4L455.3 463.5L456.7 463.6L458.1 463.7L459.5 464.0L460.8 464.2L462.2 464.5L463.6 464.9L465.0 465.3L466.4 465.6L467.8 466.0L469.2 466.4L470.6 466.7L472.0 467.1L473.3 467.5L474.7 467.9L476.1 468.2L477.5 468.6L478.9 468.8L480.3 469.0L481.7 469.2L483.1 469.3L484.5 469.4L485.9 469.5L487.2 469.5L488.6 469.5L490.0 469.5L491.4 469.5L492.8 469.4L494.2 469.3L495.6 469.2L497.0 469.1L498.4 469.1L499.7 469.0L501.1 469.0L502.4 468.9L503.7 468.9L505.1 468.9L506.6 469.0L508.1 469.1L509.3 469.2L510.6 469.3L512.0 469.4L513.3 469.6L514.7 469.8L516.1 470.0L517.5 470.1L518.9 470.3L520.2 470.5L521.6 470.7L522.9 470.9L524.3 471.1L525.6 471.3L527.0 471.5L528.3 471.7L529.7 471.9L531.1 472.1L532.4 472.2L533.8 472.3L535.1 472.5L536.5 472.6L537.8 472.6L539.2 472.7L540.5 472.8L541.9 472.9L543.2 472.9L544.6 472.9L545.9 473.0L547.3 473.0L548.6 473.0L550.0 473.0L551.3 473.0L552.7 473.0L554.0 473.0L555.4 473.0L556.7 472.9L558.1 472.9L559.4 472.9L560.8 472.9L562.1 472.9L563.5 472.8L564.8 472.8L566.2 472.8L567.5 472.9L568.9 472.9L570.2 473.1L571.6 473.2L572.9 473.4L574.3 473.6L575.6 473.8L577.0 474.0L578.3 474.2L579.7 474.4L581.0 474.7L582.4 474.9L583.7 475.1L585.1 475.3L586.4 475.5L587.8 475.8L589.1 476.0L590.5 476.2L591.8 476.4L593.2 476.6L594.5 476.8L595.9 477.0L597.2 477.1L598.6 477.3L599.9 477.5L601.3 477.6L602.6 477.8L604.0 477.9L605.3 478.1L606.7 478.2L608.1 478.3L609.5 478.5L610.9 478.6L612.3 478.7L613.6 478.8L615.0 478.9L616.3 479.0L617.5 479.0L619.0 479.1L620.4 479.1L621.7 479.1L623.0 479.1L624.3 479.0L625.7 478.9L627.2 478.8L628.5 478.7L629.8 478.5L631.1 478.4L632.5 478.2L633.9 478.0L635.2 477.8L636.6 477.5L638.0 477.3L639.4 477.1L640.7 476.8L642.1 476.6L643.4 476.3L644.8 476.0L646.1 475.7L647.5 475.5L648.8 475.2L650.2 474.9L651.6 474.7L652.9 474.4L654.3 474.2L655.7 473.9L657.1 473.7L658.5 473.5L659.8 473.3L661.2 473.1L662.5 472.9L663.7 472.7L665.2 472.5L666.7 472.3L668.0 472.2L669.4 472.1L670.7 472.0L672.1 471.9L673.4 471.7L674.8 471.6L676.2 471.5L677.6 471.4L679.0 471.3L680.4 471.2L681.8 471.1L683.2 471.0L684.6 471.0L685.9 470.9L687.3 470.9L688.7 470.9L690.1 470.9L691.5 470.9L692.9 471.0L694.3 471.1L695.7 471.2L697.1 471.4L698.4 471.5L699.8 471.7L701.2 472.0L702.6 472.2L704.0 472.5L705.4 472.9L706.8 473.2L708.2 473.6L709.6 474.0L711.0 474.3L712.3 474.7L713.7 474.9L715.1 475.1L716.5 475.3L717.9 475.5L719.3 475.7L720.7 475.9L722.1 476.1L723.4 476.4L724.7 476.7L726.0 476.9L727.3 477.2L728.7 477.5L730.1 477.8L731.8 478.1L733.1 478.2L734.4 478.3L735.8 478.5L737.3 478.6L738.8 478.7L740.3 478.8L741.9 478.9L743.4 479.1L744.9 479.2L746.4 479.3L747.8 479.4L749.2 479.5L750.6 479.6L752.0 479.6L753.4 479.7L754.8 479.8L756.2 479.9L757.7 480.0L759.3 480.1L761.0 480.2L762.2 480.3L763.5 480.5L764.8 480.6L766.2 480.7L767.6 480.8L769.0 480.9L770.4 481.1L771.8 481.2L773.3 481.3L774.7 481.5L776.2 481.6L777.6 481.7L779.0 481.8L780.4 481.9L781.9 482.1L783.4 482.2L784.9 482.3L786.5 482.4L788.1 482.5L789.7 482.7L791.3 482.8L792.8 482.9L794.3 483.0L795.7 483.1L796.9 483.2L798.1 483.3L799.1 483.3L799.9 483.4L800.9 483.5" fill="none" stroke="#000" stroke-width="3.6" stroke-linejoin="miter" stroke-miterlimit="2.5" stroke-linecap="butt"/>
<path d="M83.9 423.0L84.4 423.0L85.3 422.9L86.4 422.9L87.7 422.8L89.2 422.7L90.8 422.6L92.4 422.5L94.0 422.4L95.6 422.2L97.0 422.0L98.4 421.9L99.8 421.6L101.2 421.4L102.6 421.2L104.0 420.9L105.3 420.7L106.7 420.4L107.9 420.1L109.2 419.8L110.7 419.5L112.2 419.0L113.7 418.6L115.1 418.1L116.5 417.7L117.7 417.3L118.9 416.9L120.4 416.5L121.7 416.2L122.9 415.9L124.0 415.7L125.0 415.7L126.3 415.9L127.4 416.3L128.6 417.4L129.4 418.3L130.2 419.5L131.0 420.8L131.8 422.1L132.7 423.5L133.5 424.7L134.3 425.9L135.2 427.2L136.0 428.4L136.8 429.5L137.6 430.5L138.4 431.3L139.6 432.2L140.7 432.6L142.0 432.5L143.0 432.2L144.2 431.7L145.4 431.0L146.8 430.3L148.1 429.6L149.2 428.9L150.4 428.3L151.7 427.5L152.9 426.8L154.2 426.1L155.4 425.4L156.6 424.8L157.9 424.2L159.3 423.6L160.5 423.0L161.7 422.6L162.7 422.3L164.1 422.0L165.2 422.2L166.3 422.8L167.2 423.3L168.1 424.1L169.1 425.0L170.1 425.9L171.2 426.7L172.3 427.3L173.5 428.0L174.7 428.6L176.0 429.1L177.3 429.6L178.6 429.9L180.0 430.2L181.4 430.3L182.9 430.4L184.6 430.3L185.8 430.2L187.2 430.0L188.6 429.7L190.0 429.4L191.4 429.1L192.9 428.7L194.3 428.4L195.7 428.0L197.1 427.5L198.5 427.1L199.8 426.6L201.2 426.1L202.6 425.8L204.0 425.4L205.4 425.2L206.9 425.0L208.3 424.9L209.7 424.8L211.1 424.7L212.5 424.7L213.7 424.7L215.4 424.7L216.8 424.9L218.2 425.0L219.6 425.2L221.0 425.4L222.5 425.7L223.9 426.1L225.3 426.5L226.8 426.8L228.3 427.1L229.7 427.4L231.1 427.6L232.5 427.7L234.0 427.9L235.4 427.9L236.8 427.9L238.2 427.7L239.6 427.5L241.0 427.2L242.4 426.9L243.9 426.4L245.3 425.9L246.5 425.5L247.7 425.0L248.9 424.5L250.1 423.9L251.4 423.3L252.6 422.7L253.9 422.1L255.1 421.6L256.3 421.0L257.5 420.5L258.7 419.9L259.9 419.4L261.2 418.9L262.4 418.4L263.6 417.9L264.8 417.4L266.2 416.9L267.7 416.4L269.1 415.9L270.5 415.5L271.9 415.0L273.3 414.6L274.5 414.3L276.2 413.8L277.7 413.4L279.1 413.1L280.5 412.8L281.8 412.6L283.1 412.3L284.3 412.1L285.5 411.9L286.7 411.8L287.9 411.8L289.1 411.9L290.3 412.1L291.6 412.7L292.8 413.4L294.0 414.3L295.0 415.2L296.0 416.2L297.0 417.3L298.0 418.5L299.0 419.8L300.1 421.1L300.9 422.2L301.8 423.4L302.7 424.7L303.5 426.0L304.4 427.3L305.3 428.7L306.1 429.9L307.0 431.2L307.9 432.6L308.7 433.9L309.6 435.2L310.5 436.4L311.4 437.4L312.2 438.2L313.2 439.2L314.2 440.0L315.3 440.8L316.3 441.4L317.3 442.0L318.3 442.5L319.5 442.9L320.6 443.2L321.8 443.4L323.0 443.5L324.4 443.4L325.6 443.2L327.0 443.1L328.4 442.8L329.9 442.5L331.4 442.2L332.9 441.8L334.2 441.5L335.6 441.1L337.1 440.7L338.6 440.3L340.0 439.9L341.3 439.6L342.6 439.3L344.2 439.0L345.7 438.8L347.1 438.6L348.5 438.6L349.9 438.6L351.3 438.7L352.7 438.9L354.1 439.2L355.6 439.6L357.2 440.0L358.4 440.4L359.7 440.9L361.1 441.4L362.5 442.0L363.9 442.6L365.4 443.1L366.9 443.7L368.2 444.1L369.5 444.5L370.8 444.9L372.2 445.3L373.6 445.7L374.9 446.1L376.3 446.5L377.7 446.9L379.1 447.3L380.4 447.7L381.8 448.1L383.1 448.5L384.5 448.9L385.8 449.3L387.2 449.7L388.5 450.1L389.9 450.4L391.2 450.7L392.6 451.0L393.9 451.2L395.3 451.4L396.6 451.6L398.0 451.8L399.4 452.0L400.7 452.2L402.1 452.4L403.4 452.7L404.8 453.0L406.1 453.3L407.5 453.6L408.8 453.9L410.2 454.2L411.5 454.6L412.9 454.9L414.2 455.3L415.6 455.6L416.9 455.9L418.3 456.3L419.6 456.7L421.0 457.1L422.3 457.4L423.7 457.8L425.0 458.2L426.4 458.5L427.7 458.8L429.1 459.0L430.4 459.2L431.8 459.3L433.2 459.5L434.5 459.6L435.9 459.7L437.3 459.9L438.6 460.1L440.0 460.3L441.4 460.6L442.7 460.9L444.1 461.2L445.4 461.5L446.8 461.8L448.1 462.2L449.5 462.5L450.8 462.9L452.2 463.2L453.5 463.5L454.9 463.8L456.2 464.1L457.6 464.4L458.9 464.7L460.3 465.0L461.6 465.4L463.0 465.7L464.3 466.1L465.7 466.6L467.0 467.1L468.4 467.6L469.7 468.2L471.1 468.7L472.4 469.3L473.8 469.9L475.1 470.5L476.5 471.0L477.8 471.6L479.2 472.1L480.6 472.7L482.0 473.3L483.4 473.9L484.8 474.5L486.1 475.0L487.4 475.5L488.6 475.9L490.2 476.3L491.7 476.7L493.1 477.0L494.5 477.3L495.8 477.5L497.1 477.7L498.4 477.8L499.9 478.0L501.3 478.1L502.7 478.1L504.1 478.0L505.7 477.8L506.9 477.6L508.2 477.3L509.5 477.0L510.9 476.7L512.4 476.3L513.8 475.8L515.4 475.4L516.6 475.0L517.9 474.6L519.2 474.1L520.5 473.6L521.8 473.1L523.2 472.7L524.6 472.2L526.1 471.7L527.5 471.2L528.8 470.9L530.0 470.5L531.3 470.2L532.7 469.8L534.0 469.5L535.4 469.1L536.7 468.8L538.1 468.5L539.4 468.2L540.8 467.9L542.1 467.6L543.6 467.3L545.1 467.1L546.6 466.9L548.1 466.7L549.6 466.5L551.1 466.3L552.5 466.1L554.0 466.0L555.4 465.8L556.7 465.7L558.2 465.5L559.6 465.3L561.0 465.2L562.4 465.0L563.8 464.9L565.1 464.7L566.4 464.6L567.6 464.5L568.9 464.4L570.4 464.3L571.8 464.3L573.1 464.2L574.4 464.2L575.7 464.2L577.1 464.2L578.6 464.2L579.8 464.2L581.1 464.3L582.4 464.4L583.7 464.5L585.1 464.5L586.4 464.6L587.8 464.7L589.3 464.8L590.8 464.9L592.1 465.0L593.6 465.1L595.0 465.1L596.5 465.2L598.1 465.3L599.6 465.4L601.1 465.4L602.5 465.5L604.0 465.6L605.3 465.7L606.8 465.7L608.2 465.8L609.6 465.8L610.9 465.9L612.2 465.9L613.5 466.0L614.9 466.1L616.2 466.2L617.5 466.4L618.9 466.6L620.2 466.8L621.6 467.1L622.9 467.4L624.3 467.7L625.6 468.0L627.0 468.3L628.3 468.6L629.7 468.8L631.0 469.0L632.4 469.2L633.7 469.3L635.1 469.5L636.4 469.6L637.8 469.7L639.1 469.8L640.5 469.9L641.8 470.0L643.2 470.1L644.6 470.2L646.0 470.2L647.4 470.2L648.7 470.2L650.1 470.3L651.4 470.3L652.7 470.4L654.0 470.5L655.5 470.7L656.9 470.9L658.3 471.2L659.7 471.4L661.0 471.8L662.3 472.1L663.7 472.5L665.1 472.9L666.5 473.3L667.9 473.8L669.3 474.3L670.7 474.9L672.0 475.4L673.4 475.9L674.8 476.3L676.2 476.8L677.6 477.3L679.0 477.8L680.4 478.2L681.8 478.7L683.2 479.0L684.6 479.4L685.9 479.7L687.3 479.9L688.7 480.2L690.1 480.4L691.5 480.6L692.9 480.7L694.3 480.8L695.7 480.9L697.1 481.0L698.4 481.0L699.8 481.0L701.2 481.0L702.6 481.0L704.0 480.9L705.4 480.8L706.8 480.8L708.2 480.6L709.6 480.5L711.0 480.4L712.3 480.2L713.7 480.1L715.1 479.9L716.5 479.7L717.9 479.5L719.3 479.3L720.7 479.2L722.1 479.0L723.4 478.9L724.7 478.8L726.0 478.7L727.3 478.6L728.7 478.6L730.1 478.5L731.8 478.5L733.1 478.6L734.4 478.6L735.8 478.7L737.3 478.7L738.8 478.8L740.3 478.9L741.9 479.0L743.4 479.1L744.9 479.2L746.4 479.3L747.8 479.4L749.2 479.4L750.6 479.5L752.0 479.6L753.4 479.7L754.8 479.8L756.2 479.9L757.7 480.0L759.3 480.1L761.0 480.2L762.2 480.3L763.5 480.5L764.8 480.6L766.2 480.7L767.6 480.8L769.0 480.9L770.4 481.1L771.8 481.2L773.3 481.3L774.7 481.5L776.2 481.6L777.6 481.7L779.0 481.8L780.4 481.9L781.9 482.1L783.4 482.2L784.9 482.3L786.5 482.4L788.1 482.5L789.7 482.7L791.3 482.8L792.8 482.9L794.3 483.0L795.7 483.1L796.9 483.2L798.1 483.3L799.1 483.3L799.9 483.4L800.9 483.5" fill="none" stroke="#f00" stroke-width="3.6" stroke-linejoin="miter" stroke-miterlimit="2.5" stroke-linecap="butt"/>
</svg>
<svg x="948.1" y="19.7" width="690.9" height="519.4" viewBox="948.1 19.7 690.9 519.4" overflow="hidden">
<path d="M948.5 143.7L949.4 143.7L950.2 143.6L951.1 143.6L952.1 143.6L953.3 143.6L954.5 143.5L955.8 143.5L957.1 143.5L958.6 143.4L960.1 143.4L961.6 143.4L963.2 143.3L964.8 143.3L966.5 143.2L968.2 143.2L969.9 143.1L971.6 143.1L973.3 143.0L974.9 142.9L976.6 142.8L978.3 142.8L979.9 142.7L981.5 142.6L982.9 142.5L984.3 142.4L985.7 142.3L987.2 142.2L988.7 142.1L990.2 141.9L991.7 141.8L993.2 141.7L994.8 141.6L996.3 141.4L997.9 141.3L999.4 141.1L1001.0 141.0L1002.5 140.8L1004.0 140.7L1005.5 140.5L1007.0 140.4L1008.5 140.2L1009.9 140.1L1011.4 139.9L1012.8 139.8L1014.1 139.7L1015.4 139.5L1016.7 139.4L1017.9 139.2L1019.7 139.1L1021.4 138.9L1023.0 138.7L1024.5 138.6L1026.0 138.4L1027.4 138.2L1028.8 138.1L1030.2 137.9L1031.5 137.8L1032.9 137.6L1034.2 137.4L1035.5 137.2L1036.8 137.0L1038.1 136.8L1039.5 136.6L1040.9 136.4L1042.3 136.2L1043.7 136.0L1045.2 135.7L1046.6 135.5L1048.1 135.2L1049.6 134.9L1051.1 134.7L1052.6 134.4L1054.1 134.1L1055.6 133.8L1057.1 133.5L1058.5 133.2L1060.0 132.9L1061.4 132.6L1062.7 132.4L1064.1 132.1L1065.3 131.8L1066.6 131.5L1068.3 131.1L1069.9 130.7L1071.4 130.3L1072.9 130.0L1074.3 129.6L1075.7 129.2L1077.1 128.8L1078.4 128.4L1079.7 128.0L1081.0 127.5L1082.3 127.1L1083.6 126.7L1085.0 126.2L1086.4 125.7L1087.8 125.3L1089.1 124.8L1090.4 124.3L1091.7 123.8L1093.0 123.3L1094.3 122.8L1095.6 122.2L1096.9 121.7L1098.2 121.1L1099.4 120.6L1100.7 120.0L1101.9 119.4L1103.1 118.9L1104.4 118.3L1105.6 117.6L1106.9 117.0L1108.1 116.3L1109.3 115.6L1110.5 114.9L1111.7 114.1L1112.8 113.3L1114.0 112.5L1115.2 111.6L1116.3 110.7L1117.5 109.8L1118.6 108.8L1119.7 107.8L1120.8 106.6L1121.9 105.5L1122.9 104.3L1123.9 103.2L1124.9 102.0L1125.9 100.8L1126.9 99.6L1127.8 98.3L1128.8 97.1L1129.7 95.8L1130.5 94.5L1131.4 93.4L1132.3 92.3L1133.1 91.2L1133.9 90.1L1134.7 89.0L1135.6 87.8L1136.5 86.5L1137.3 85.2L1138.1 83.9L1138.9 82.6L1139.6 81.4L1140.4 80.2L1141.2 79.1L1142.0 77.9L1142.9 76.6L1143.8 75.3L1144.8 74.1L1145.8 72.8L1146.7 71.7L1147.6 70.6L1148.5 69.8L1149.3 69.1L1150.7 67.9L1151.9 67.1L1153.0 66.5L1154.1 66.0L1155.6 65.5L1157.0 65.2L1158.5 65.2L1159.7 65.4L1161.1 65.7L1162.4 66.2L1163.8 66.6L1165.0 67.0L1166.2 67.6L1167.5 68.1L1168.7 68.5L1169.9 68.5L1171.1 68.1L1172.4 67.5L1173.6 66.7L1174.8 65.7L1176.0 64.8L1177.0 64.1L1178.1 63.2L1179.2 62.3L1180.2 61.4L1181.2 60.6L1182.1 60.0L1183.5 59.1L1184.6 58.7L1185.7 58.8L1186.6 59.2L1187.6 59.8L1188.5 60.9L1189.4 62.4L1189.8 63.5L1190.3 64.7L1190.7 66.1L1191.2 67.7L1191.7 69.2L1192.1 70.7L1192.6 72.1L1193.0 73.4L1193.6 74.8L1194.2 76.2L1194.8 77.5L1195.4 78.7L1196.0 79.7L1196.7 80.7L1197.8 81.7L1199.0 82.4L1200.3 82.9L1201.5 83.6L1202.8 84.2L1204.0 84.9L1205.2 85.6L1206.4 86.7L1207.2 87.7L1208.1 89.0L1208.9 90.3L1209.7 91.7L1210.5 92.9L1211.3 94.0L1212.3 95.4L1213.2 96.5L1214.0 97.4L1214.9 98.2L1216.1 98.7L1217.3 98.9L1218.6 98.9L1219.7 98.8L1220.9 98.6L1222.2 98.2L1223.4 97.7L1224.4 97.1L1225.3 96.4L1226.2 95.6L1227.2 94.6L1228.3 93.3L1229.0 92.3L1229.7 91.3L1230.5 90.1L1231.2 88.8L1232.0 87.5L1232.8 86.1L1233.6 84.6L1234.4 83.1L1234.9 81.9L1235.5 80.7L1236.0 79.4L1236.6 78.1L1237.1 76.7L1237.7 75.4L1238.2 74.0L1238.8 72.6L1239.3 71.2L1239.9 69.8L1240.4 68.5L1241.0 67.1L1241.6 65.7L1242.2 64.3L1242.8 62.9L1243.3 61.5L1243.9 60.0L1244.5 58.7L1245.0 57.4L1245.6 56.1L1246.1 55.0L1246.5 53.9L1247.3 52.2L1247.9 50.8L1248.5 49.5L1249.0 48.4L1249.6 47.5L1250.2 46.6L1251.4 45.2L1252.6 44.4L1253.8 44.2L1254.7 44.5L1255.6 45.3L1256.6 46.4L1257.5 47.8L1258.0 48.8L1258.5 49.8L1259.0 51.0L1259.5 52.3L1260.0 53.6L1260.5 55.0L1261.1 56.3L1261.7 57.6L1262.2 58.9L1262.8 60.3L1263.4 61.7L1264.0 63.2L1264.6 64.6L1265.3 66.0L1266.0 67.3L1266.7 68.6L1267.4 69.8L1268.2 71.0L1268.9 72.3L1269.7 73.5L1270.5 74.7L1271.3 75.8L1272.1 77.0L1272.8 78.2L1273.6 79.4L1274.4 80.7L1275.2 81.9L1275.9 83.0L1276.7 84.1L1277.4 85.1L1278.1 86.0L1279.1 87.1L1280.0 88.0L1280.9 88.7L1281.9 89.3L1283.0 89.9L1284.1 90.4L1285.3 90.9L1286.6 91.4L1287.9 91.8L1289.1 92.3L1290.3 92.8L1291.6 93.5L1292.9 94.3L1294.1 95.0L1295.2 95.8L1296.4 96.5L1297.6 97.3L1298.8 98.1L1300.0 98.9L1301.2 99.4L1302.4 99.6L1303.6 99.6L1304.8 99.5L1306.1 99.4L1307.3 99.4L1308.5 99.4L1309.8 99.6L1311.0 99.7L1312.3 99.6L1313.4 99.4L1314.4 98.9L1315.4 98.1L1316.4 97.3L1317.3 96.3L1318.3 95.2L1319.1 94.2L1319.9 93.0L1320.7 91.8L1321.5 90.5L1322.3 89.4L1323.1 88.4L1324.3 87.4L1325.5 86.6L1326.8 86.0L1328.0 85.5L1329.2 85.1L1330.4 84.8L1331.6 84.7L1332.8 85.0L1333.8 85.6L1334.8 86.3L1335.8 87.3L1336.7 88.6L1337.7 90.4L1338.2 91.4L1338.6 92.6L1339.1 93.9L1339.6 95.3L1340.1 96.7L1340.5 98.2L1341.0 99.7L1341.4 101.2L1341.8 102.6L1342.2 103.8L1342.6 105.0L1343.1 106.8L1343.5 108.4L1343.8 109.8L1344.1 111.1L1344.5 112.3L1345.0 113.5L1345.8 114.9L1346.7 116.3L1347.6 117.5L1348.6 118.4L1349.6 119.0L1350.7 119.1L1351.9 118.7L1353.1 118.0L1354.4 117.3L1355.6 116.8L1356.8 116.1L1358.0 115.4L1359.3 114.7L1360.5 114.2L1361.7 113.8L1362.9 113.6L1364.1 113.5L1365.4 113.3L1366.6 112.9L1367.8 112.4L1369.1 111.8L1370.3 111.2L1371.5 110.5L1372.7 110.0L1374.0 109.5L1375.2 109.1L1376.4 108.8L1377.5 108.8L1378.8 109.1L1379.9 109.7L1381.2 111.0L1381.8 111.8L1382.5 112.9L1383.2 114.1L1383.9 115.3L1384.6 116.6L1385.3 117.9L1386.0 119.0L1386.8 120.3L1387.7 121.6L1388.5 122.9L1389.3 124.1L1390.1 125.3L1390.9 126.3L1391.8 127.5L1392.7 128.5L1393.6 129.4L1394.6 130.3L1395.8 131.2L1396.8 131.9L1398.0 132.5L1399.2 133.2L1400.4 133.8L1401.7 134.3L1403.1 134.8L1404.4 135.3L1405.9 135.6L1407.5 136.0L1409.0 136.3L1410.3 136.7L1411.6 137.3L1412.8 138.0L1413.8 138.8L1414.7 139.7L1415.5 140.8L1416.4 142.1L1417.0 143.1L1417.6 144.3L1418.3 145.6L1418.9 147.0L1419.5 148.3L1420.1 149.7L1420.7 150.8L1421.3 151.9L1422.3 153.3L1423.2 154.5L1424.2 155.5L1425.2 156.3L1426.2 156.7L1427.3 156.7L1428.5 156.1L1429.7 155.3L1431.0 154.3L1432.0 153.5L1433.0 152.6L1434.0 151.6L1435.1 150.6L1436.1 149.7L1437.1 148.9L1438.5 148.0L1439.9 147.2L1441.2 146.7L1442.4 146.5L1443.6 146.8L1444.7 147.5L1445.7 148.5L1446.8 149.4L1447.8 150.3L1448.7 151.2L1449.7 152.2L1450.7 153.1L1451.7 153.8L1452.8 154.4L1454.0 154.8L1455.2 155.0L1456.6 155.0L1457.8 154.8L1459.2 154.4L1460.6 154.0L1462.2 153.6L1463.8 153.3L1465.1 153.3L1466.4 153.3L1467.8 153.5L1469.3 153.6L1470.7 153.7L1472.2 153.8L1473.6 153.8L1475.0 153.7L1476.4 153.5L1477.8 153.3L1479.2 153.1L1480.6 152.9L1482.0 152.7L1483.3 152.6L1484.8 152.5L1486.3 152.6L1487.8 152.6L1489.2 152.7L1490.5 152.6L1491.8 152.3L1493.2 151.8L1494.4 151.1L1495.6 150.3L1496.7 149.3L1497.9 148.2L1498.8 147.3L1499.6 146.3L1500.5 145.1L1501.4 144.0L1502.2 142.9L1503.1 141.8L1504.0 140.9L1505.2 139.8L1506.5 138.8L1507.8 137.9L1509.0 137.1L1510.0 136.5L1511.4 136.0L1512.5 135.9L1513.7 136.0L1514.8 136.4L1516.0 136.9L1517.3 137.5L1518.6 138.0L1519.8 138.5L1521.0 138.9L1522.2 139.2L1523.4 139.2L1524.6 138.8L1525.8 138.2L1527.0 137.2L1528.3 136.0L1529.1 135.2L1529.9 134.3L1530.8 133.2L1531.7 132.1L1532.6 131.0L1533.5 129.8L1534.4 128.8L1535.2 127.7L1536.1 126.5L1537.0 125.3L1537.9 124.2L1538.8 123.1L1539.6 122.2L1540.4 121.5L1541.7 120.6L1542.9 120.2L1544.0 120.0L1545.3 119.8L1546.4 119.5L1547.6 119.2L1548.8 119.0L1550.1 118.7L1551.4 118.3L1552.5 117.8L1553.7 117.2L1555.0 116.6L1556.2 115.9L1557.4 115.4L1558.7 114.9L1560.1 114.5L1561.5 114.3L1562.9 114.1L1564.4 113.9L1566.0 113.7L1567.2 113.4L1568.6 113.2L1570.0 112.9L1571.5 112.6L1572.9 112.3L1574.4 112.0L1575.7 111.7L1577.2 111.4L1578.8 111.1L1580.3 110.8L1581.7 110.5L1583.0 110.3L1584.2 110.0L1585.7 109.7L1586.8 109.5L1587.9 109.3L1589.1 109.3L1590.2 109.4L1591.4 109.5L1592.7 109.8L1593.9 110.1L1595.2 110.5L1596.4 111.0L1597.6 111.6L1598.9 112.3L1600.1 113.2L1601.2 114.2L1602.1 115.2L1602.9 116.4L1603.7 117.6L1604.5 118.9L1605.3 120.2L1606.1 121.5L1606.9 122.6L1607.7 123.9L1608.4 125.0L1609.2 126.2L1610.1 127.2L1611.0 128.1L1612.1 129.1L1613.2 129.8L1614.5 130.5L1615.7 130.9L1617.0 131.3L1618.4 131.3L1619.9 131.2L1621.4 131.0L1622.9 130.6L1624.3 130.3L1625.6 129.9L1626.8 129.4L1628.1 129.0L1629.3 128.6L1630.5 128.2L1631.6 127.9L1633.2 127.5L1634.8 127.2L1636.2 126.9L1637.2 126.7L1638.6 126.4" fill="none" stroke="#000" stroke-width="3.4" stroke-linejoin="miter" stroke-miterlimit="2.5" stroke-linecap="butt"/>
<path d="M948.5 140.3L949.4 140.2L950.2 140.2L951.1 140.1L952.1 140.1L953.3 140.0L954.5 140.0L955.8 139.9L957.1 139.9L958.6 139.8L960.1 139.7L961.6 139.7L963.2 139.6L964.8 139.5L966.5 139.4L968.2 139.4L969.9 139.3L971.6 139.2L973.3 139.1L974.9 139.0L976.6 138.9L978.3 138.8L979.9 138.8L981.5 138.7L982.9 138.6L984.3 138.6L985.7 138.5L987.2 138.4L988.7 138.3L990.2 138.2L991.7 138.1L993.2 138.0L994.8 137.9L996.3 137.8L997.9 137.7L999.4 137.6L1001.0 137.5L1002.5 137.4L1004.0 137.3L1005.5 137.1L1007.0 137.0L1008.5 136.9L1009.9 136.7L1011.4 136.6L1012.8 136.4L1014.1 136.3L1015.4 136.2L1016.7 136.0L1017.9 135.9L1019.7 135.7L1021.4 135.5L1023.0 135.4L1024.5 135.2L1026.0 135.0L1027.4 134.8L1028.8 134.6L1030.2 134.5L1031.5 134.3L1032.9 134.1L1034.2 133.9L1035.5 133.7L1036.8 133.5L1038.1 133.3L1039.5 133.0L1040.9 132.8L1042.3 132.5L1043.7 132.3L1045.2 132.0L1046.6 131.7L1048.1 131.4L1049.6 131.1L1051.1 130.7L1052.6 130.4L1054.1 130.1L1055.6 129.7L1057.1 129.4L1058.5 129.1L1060.0 128.7L1061.4 128.4L1062.7 128.1L1064.1 127.7L1065.3 127.4L1066.6 127.1L1068.3 126.7L1069.9 126.3L1071.4 125.9L1072.9 125.6L1074.3 125.2L1075.7 124.8L1077.1 124.5L1078.4 124.1L1079.7 123.7L1081.0 123.3L1082.3 122.9L1083.6 122.5L1085.0 122.0L1086.4 121.5L1087.8 121.1L1089.2 120.7L1090.5 120.2L1091.9 119.8L1093.2 119.3L1094.5 118.8L1095.7 118.2L1097.0 117.7L1098.2 117.1L1099.5 116.4L1100.8 115.8L1102.1 115.1L1103.3 114.4L1104.6 113.6L1105.8 112.9L1107.0 112.1L1108.1 111.3L1109.2 110.2L1110.3 109.2L1111.4 108.1L1112.5 107.0L1113.5 105.9L1114.5 104.7L1115.5 103.5L1116.5 102.4L1117.4 101.2L1118.3 100.1L1119.2 99.0L1120.1 98.0L1121.1 96.7L1122.1 95.4L1123.1 94.1L1124.0 92.9L1124.9 91.8L1125.8 90.8L1126.6 89.8L1127.4 89.0L1128.5 87.8L1129.5 86.8L1130.5 86.0L1131.4 85.3L1132.2 84.8L1133.5 84.1L1134.7 83.7L1135.9 83.6L1137.1 83.8L1138.2 84.2L1139.5 85.0L1140.4 85.7L1141.4 86.6L1142.5 87.6L1143.5 88.5L1144.4 89.2L1145.6 89.9L1146.7 90.4L1148.0 90.4L1149.1 90.0L1150.2 89.4L1151.4 88.7L1152.7 87.9L1154.1 87.2L1155.2 86.8L1156.4 86.4L1157.6 86.0L1158.9 85.5L1160.1 85.0L1161.4 84.5L1162.6 83.8L1163.7 83.1L1164.8 82.3L1165.9 81.4L1167.0 80.4L1168.1 79.5L1169.2 78.6L1170.2 77.7L1171.1 77.0L1172.6 76.0L1173.9 75.2L1175.1 74.4L1176.2 73.8L1177.2 73.4L1178.6 72.8L1179.7 72.6L1180.9 72.9L1181.8 73.5L1182.7 74.5L1183.6 75.6L1184.5 77.0L1185.1 78.1L1185.7 79.3L1186.3 80.7L1186.9 82.0L1187.6 83.2L1188.2 84.3L1189.1 85.7L1190.0 87.0L1190.9 88.0L1191.8 88.4L1192.7 88.4L1193.6 88.0L1194.5 87.1L1195.5 85.5L1195.9 84.6L1196.4 83.5L1196.9 82.2L1197.5 80.9L1198.0 79.4L1198.6 77.9L1199.1 76.4L1199.7 74.9L1200.3 73.4L1200.8 72.1L1201.4 70.7L1201.9 69.3L1202.5 67.9L1203.1 66.5L1203.6 65.0L1204.2 63.6L1204.8 62.3L1205.4 61.0L1205.9 59.8L1206.4 58.8L1207.3 57.1L1208.2 55.7L1209.0 54.5L1209.8 53.5L1210.5 52.6L1211.3 52.0L1212.4 51.3L1213.5 51.3L1214.9 51.5L1216.2 51.6L1217.7 51.9L1219.3 52.2L1220.8 52.5L1222.2 52.7L1223.5 52.8L1224.6 52.8L1225.7 52.8L1227.1 52.7L1228.4 52.5L1229.9 52.2L1231.5 51.9L1233.0 51.6L1234.4 51.5L1235.7 51.4L1236.9 51.3L1238.1 51.5L1239.2 52.0L1240.2 52.7L1241.2 53.7L1242.2 54.8L1243.2 55.9L1244.1 56.8L1245.1 57.8L1246.0 58.7L1246.9 59.3L1247.7 59.5L1248.6 59.3L1249.6 58.8L1250.5 57.9L1251.4 56.3L1251.8 55.4L1252.2 54.2L1252.6 52.9L1253.0 51.4L1253.4 49.9L1253.8 48.4L1254.2 46.9L1254.6 45.5L1255.0 44.2L1255.6 42.6L1256.1 41.0L1256.7 39.4L1257.2 37.9L1257.7 36.6L1258.2 35.4L1258.7 34.5L1259.6 33.0L1260.3 32.5L1261.1 32.5L1262.0 32.8L1262.9 33.7L1264.0 35.7L1264.4 36.6L1264.8 37.6L1265.2 38.8L1265.6 40.1L1266.1 41.5L1266.5 42.9L1267.0 44.4L1267.5 46.0L1267.9 47.5L1268.4 49.0L1268.8 50.4L1269.2 51.8L1269.6 53.2L1270.0 54.8L1270.4 56.3L1270.8 57.9L1271.2 59.4L1271.6 60.9L1272.0 62.3L1272.5 63.7L1272.9 64.9L1273.3 66.1L1274.0 67.8L1274.6 69.2L1275.3 70.5L1276.0 71.7L1276.7 72.7L1277.4 73.7L1278.1 74.6L1279.3 75.7L1280.5 76.6L1281.7 77.3L1283.0 78.0L1284.2 78.7L1285.5 79.5L1286.8 80.2L1288.0 80.9L1289.2 81.5L1290.3 81.9L1291.6 82.1L1292.7 81.9L1293.9 81.1L1294.8 80.4L1295.7 79.4L1296.7 78.3L1297.7 77.1L1298.8 75.8L1299.6 74.8L1300.5 73.6L1301.4 72.4L1302.3 71.1L1303.2 69.9L1304.1 68.9L1304.9 68.0L1306.2 66.9L1307.4 66.1L1308.6 65.6L1309.7 65.3L1310.9 65.3L1312.0 65.6L1313.2 66.2L1314.6 67.3L1315.4 68.0L1316.3 68.9L1317.2 69.8L1318.1 70.9L1319.1 72.0L1320.0 73.3L1321.0 74.5L1321.9 75.8L1322.6 76.8L1323.4 77.9L1324.1 79.0L1324.8 80.2L1325.5 81.3L1326.3 82.6L1327.0 83.8L1327.7 85.1L1328.5 86.5L1329.2 87.9L1329.8 89.1L1330.3 90.3L1330.9 91.5L1331.5 92.8L1332.1 94.1L1332.7 95.5L1333.3 96.8L1333.9 98.2L1334.4 99.6L1335.0 100.9L1335.5 102.3L1336.0 103.6L1336.5 105.0L1337.0 106.4L1337.5 107.8L1337.9 109.3L1338.3 110.8L1338.7 112.2L1339.1 113.7L1339.5 115.2L1339.9 116.6L1340.3 118.0L1340.6 119.4L1341.0 120.7L1341.4 122.0L1341.8 123.5L1342.2 125.0L1342.5 126.5L1342.9 128.0L1343.3 129.4L1343.6 130.8L1344.0 132.0L1344.3 133.2L1344.7 134.4L1345.0 135.4L1345.6 136.9L1346.2 138.0L1346.8 138.9L1347.5 139.7L1348.3 140.9L1349.1 142.0L1349.9 143.2L1350.8 144.4L1351.7 145.7L1352.6 147.0L1353.5 148.3L1354.4 149.4L1355.3 150.5L1356.2 151.7L1357.1 152.8L1358.0 153.8L1358.9 154.7L1359.7 155.6L1360.5 156.2L1361.8 157.0L1363.0 157.4L1364.2 157.5L1365.4 157.4L1366.6 157.2L1367.7 156.8L1368.9 156.1L1370.2 155.0L1371.0 154.1L1371.9 153.1L1372.7 151.9L1373.6 150.6L1374.5 149.3L1375.4 148.1L1376.3 147.0L1377.3 145.8L1378.4 144.6L1379.4 143.5L1380.4 142.5L1381.4 141.6L1382.4 140.9L1383.7 140.2L1384.8 139.8L1386.0 139.7L1387.2 139.7L1388.4 139.8L1389.5 139.9L1390.8 140.2L1392.0 140.6L1393.3 140.9L1394.5 141.2L1395.7 141.5L1396.9 141.9L1398.1 142.3L1399.4 142.8L1400.6 143.3L1401.9 144.0L1403.1 144.8L1404.3 145.7L1405.6 146.6L1406.8 147.5L1407.9 148.2L1409.2 149.0L1410.5 149.8L1411.7 150.4L1412.9 151.0L1414.0 151.4L1415.3 151.7L1416.4 151.8L1417.6 151.6L1418.9 151.1L1419.8 150.6L1420.8 149.9L1421.7 149.0L1422.8 148.1L1423.8 147.0L1424.9 145.8L1425.7 144.9L1426.5 143.9L1427.3 142.9L1428.1 141.8L1428.9 140.6L1429.8 139.5L1430.6 138.3L1431.4 137.2L1432.2 136.0L1433.1 134.9L1433.9 133.8L1434.7 132.7L1435.5 131.5L1436.4 130.4L1437.2 129.3L1438.0 128.2L1438.8 127.2L1439.5 126.3L1440.6 125.1L1441.7 123.9L1442.7 122.8L1443.7 121.8L1444.7 121.0L1445.6 120.2L1446.9 119.4L1448.1 119.0L1449.3 118.6L1450.5 118.3L1451.7 118.1L1452.8 118.0L1454.0 117.8L1455.3 117.3L1456.5 116.7L1457.6 115.9L1458.8 115.0L1460.1 114.0L1461.4 112.9L1462.4 112.2L1463.4 111.4L1464.5 110.5L1465.5 109.6L1466.6 108.7L1467.7 107.8L1468.7 106.9L1469.8 105.8L1470.8 104.7L1471.9 103.6L1473.0 102.4L1474.0 101.3L1475.0 100.4L1476.0 99.6L1477.3 98.7L1478.5 98.0L1479.7 97.5L1480.9 97.2L1482.1 97.1L1483.3 97.3L1484.5 97.7L1485.7 98.2L1486.9 98.9L1488.2 99.6L1489.4 100.4L1490.7 101.3L1491.9 102.3L1493.1 103.2L1494.2 104.0L1495.5 104.6L1496.7 105.0L1497.9 105.2L1499.1 105.2L1500.3 104.9L1501.5 104.4L1502.8 103.8L1504.0 103.2L1505.2 102.7L1506.4 102.1L1507.6 101.6L1508.8 101.5L1510.0 101.9L1511.2 102.5L1512.4 103.4L1513.7 104.4L1514.6 105.2L1515.7 106.2L1516.7 107.2L1517.8 108.2L1518.8 109.1L1519.8 109.8L1521.1 110.5L1522.3 111.1L1523.4 111.4L1524.6 111.7L1525.8 111.9L1527.0 111.8L1528.2 111.9L1529.5 112.2L1530.6 112.8L1531.8 113.5L1533.0 114.4L1534.3 115.4L1535.6 116.6L1536.4 117.4L1537.4 118.4L1538.3 119.5L1539.3 120.6L1540.2 121.6L1541.1 122.7L1542.0 123.6L1542.9 124.4L1544.1 125.4L1545.2 126.2L1546.3 126.9L1547.4 127.3L1548.5 127.5L1549.8 127.3L1551.2 126.7L1552.5 125.9L1553.8 125.1L1555.1 124.4L1556.4 123.5L1557.6 122.8L1558.7 122.2L1559.9 121.6L1561.1 121.3L1562.3 121.5L1563.4 122.0L1564.6 122.8L1565.9 123.8L1567.2 124.6L1568.3 125.3L1569.5 125.9L1570.8 126.6L1572.0 127.1L1573.3 127.5L1574.5 127.8L1575.7 128.0L1576.9 128.1L1578.1 128.1L1579.3 128.0L1580.5 127.9L1581.7 127.6L1582.9 127.2L1584.1 126.8L1585.4 126.3L1586.6 125.8L1587.8 125.3L1589.0 124.6L1590.2 124.0L1591.5 123.3L1592.7 122.7L1594.0 122.0L1595.2 121.4L1596.4 120.7L1597.7 120.1L1598.9 119.5L1600.0 119.0L1601.3 118.6L1602.5 118.2L1603.7 118.0L1604.9 117.9L1606.1 117.8L1607.3 117.9L1608.5 118.1L1609.7 118.3L1611.0 118.7L1612.2 119.0L1613.4 119.5L1614.7 120.0L1615.9 120.6L1617.1 121.1L1618.3 121.5L1619.5 121.8L1620.7 122.1L1621.8 122.3L1623.1 122.2L1624.3 121.9L1625.5 121.4L1626.8 120.8L1628.0 120.2L1629.2 119.8L1630.5 119.4L1631.8 119.2L1633.0 119.1L1634.1 119.0L1635.3 119.1L1636.4 119.3L1637.2 119.5L1638.6 119.7" fill="none" stroke="#f00" stroke-width="3.4" stroke-linejoin="miter" stroke-miterlimit="2.5" stroke-linecap="butt"/>
<path d="M948.5 293.8L949.0 293.7L949.9 293.5L951.1 293.3L952.4 293.0L953.9 292.7L955.4 292.3L956.8 291.9L958.1 291.5L959.4 291.0L960.7 290.5L962.0 290.0L963.3 289.2L964.6 288.4L965.7 287.6L966.8 286.8L968.0 285.9L969.1 285.0L970.2 284.0L971.3 282.9L972.3 281.8L973.2 280.9L974.1 279.8L974.9 278.8L975.7 277.7L976.5 276.7L977.3 275.5L978.1 274.4L978.8 273.3L979.5 272.1L980.2 271.0L980.9 269.8L981.6 268.5L982.2 267.3L982.8 266.0L983.4 264.8L984.0 263.6L984.6 262.2L985.2 260.7L985.8 259.3L986.3 257.9L986.9 256.5L987.4 255.1L987.9 253.9L988.5 252.3L989.2 250.7L989.9 249.1L990.5 247.7L991.0 246.8L991.1 246.5L996.7 239.5L997.0 239.9L997.7 241.0L998.7 242.4L999.8 243.8L1000.8 245.0L1001.8 246.1L1002.8 247.1L1003.9 248.1L1005.0 249.0L1006.0 249.6L1007.3 249.9L1008.7 249.9L1010.0 249.8L1011.2 249.9L1012.6 250.2L1014.1 250.5L1015.3 250.8L1015.7 250.9L1015.9 251.3L1016.4 252.3L1017.1 253.8L1017.9 255.3L1018.8 256.8L1019.6 258.0L1020.7 259.1L1021.9 260.1L1023.1 261.0L1024.3 261.8L1025.5 262.6L1026.9 263.7L1028.4 264.9L1029.5 265.8L1030.0 266.2L1030.1 266.5L1030.5 267.3L1031.0 268.5L1031.7 270.0L1032.4 271.7L1033.1 273.5L1033.9 275.2L1034.5 276.8L1035.0 278.1L1035.5 279.5L1036.0 280.9L1036.6 282.4L1037.1 283.9L1037.6 285.3L1038.1 286.7L1038.7 288.1L1039.2 289.3L1039.7 290.4L1040.6 292.1L1041.4 293.5L1042.3 294.8L1043.2 295.8L1044.0 296.8L1044.9 297.6L1046.2 298.4L1047.5 298.9L1048.8 299.1L1050.1 299.1L1051.4 298.9L1052.7 298.3L1054.0 297.7L1055.3 296.9L1056.3 296.3L1057.4 295.5L1058.5 294.7L1059.5 294.0L1060.4 293.4L1061.9 292.8L1063.2 292.5L1063.7 292.4L1063.9 292.7L1064.4 293.4L1065.2 294.6L1066.2 295.9L1067.2 297.4L1068.2 298.8L1069.0 300.0L1069.7 301.1L1070.4 302.2L1071.1 303.3L1071.8 304.4L1072.5 305.6L1073.2 306.7L1073.9 307.8L1074.6 308.9L1075.3 309.9L1075.9 311.0L1076.6 312.0L1077.3 313.1L1078.0 314.3L1078.7 315.6L1079.3 316.8L1080.0 318.1L1080.6 319.5L1081.2 320.9L1081.8 322.4L1082.4 323.8L1083.0 325.1L1083.6 326.3L1084.3 327.7L1085.0 329.1L1085.7 330.4L1086.3 331.6L1086.9 332.6L1087.5 333.6L1088.6 335.2L1089.5 336.3L1089.9 336.8L1090.6 337.0L1092.3 337.0L1093.3 336.7L1094.4 336.3L1095.6 335.8L1096.9 335.4L1098.2 335.0L1099.5 334.8L1100.8 334.6L1102.2 334.4L1103.6 334.3L1105.0 334.2L1106.6 334.2L1108.4 334.3L1110.1 334.4L1111.3 334.5L1111.8 334.5L1112.3 334.9L1113.7 335.7L1115.2 336.7L1116.7 337.4L1117.8 338.0L1118.9 338.4L1120.0 338.8L1121.0 338.9L1122.1 338.8L1123.2 338.5L1124.3 338.0L1125.4 337.4L1126.6 336.7L1127.8 335.9L1129.0 334.9L1130.3 334.0L1131.5 333.2L1132.7 332.2L1133.9 331.4L1135.1 330.6L1136.7 330.0L1138.5 329.5L1139.9 329.1L1140.5 329.0L1140.9 329.3L1141.9 330.0L1143.3 331.1L1144.7 332.3L1145.8 333.6L1146.6 334.6L1147.2 335.9L1147.9 337.2L1148.5 338.5L1149.1 339.7L1149.7 340.9L1150.5 342.1L1151.3 343.3L1152.1 344.4L1152.9 345.4L1153.6 346.2L1154.8 347.1L1156.0 347.5L1157.0 347.9L1158.2 348.3L1159.5 348.1L1160.3 347.7L1161.3 347.1L1162.3 346.4L1163.3 345.7L1164.3 345.1L1165.3 344.4L1166.3 343.8L1167.2 343.3L1168.5 342.8L1169.8 342.5L1171.1 342.3L1172.3 342.3L1173.5 342.4L1174.8 342.6L1176.0 342.8L1177.2 343.1L1178.4 343.5L1179.6 343.9L1180.9 344.3L1182.1 344.6L1183.3 345.0L1184.5 345.4L1185.7 345.7L1186.9 346.1L1188.1 346.4L1189.4 346.7L1190.6 347.0L1191.8 347.2L1193.0 347.4L1194.2 347.6L1195.4 347.7L1196.7 347.6L1197.9 347.6L1199.1 347.4L1200.3 347.2L1201.5 346.9L1202.7 346.4L1204.0 346.0L1205.2 345.7L1206.4 345.5L1207.6 345.3L1208.8 345.2L1210.0 345.2L1211.3 345.4L1212.5 345.7L1213.7 346.0L1214.9 346.2L1216.3 346.4L1217.5 346.6L1218.8 346.7L1220.1 346.6L1221.4 346.5L1222.7 346.2L1224.0 345.8L1225.4 345.2L1226.6 344.7L1227.7 344.1L1229.0 343.8L1230.1 344.1L1231.5 344.6L1232.9 345.2L1234.4 346.0L1235.6 346.6L1236.8 347.4L1238.1 348.2L1239.3 348.9L1240.4 349.5L1241.6 350.1L1242.6 350.7L1243.6 351.0L1245.0 351.2L1246.2 351.1L1247.5 350.9L1249.0 350.6L1250.5 350.3L1252.0 349.9L1253.5 349.5L1254.7 349.1L1256.0 348.6L1257.2 348.2L1258.5 347.7L1259.7 347.2L1260.9 346.7L1262.0 346.3L1263.6 345.8L1265.1 345.4L1266.5 345.0L1268.0 344.7L1269.3 344.6L1270.6 344.7L1271.8 344.9L1272.9 345.2L1274.1 345.6L1275.4 346.1L1276.5 346.5L1277.7 347.1L1278.9 347.7L1280.1 348.3L1281.4 348.8L1282.7 349.3L1284.0 349.6L1285.4 349.9L1286.9 350.2L1288.3 350.4L1289.8 350.6L1291.2 350.7L1292.6 350.9L1294.0 351.0L1295.5 351.1L1296.9 351.2L1298.3 351.2L1299.7 351.2L1301.1 351.2L1302.6 351.1L1304.0 350.9L1305.5 350.8L1306.9 350.7L1308.2 350.8L1309.8 350.9L1311.3 351.2L1312.7 351.6L1314.2 352.0L1315.5 352.5L1316.8 352.9L1318.0 353.4L1319.1 353.9L1320.3 354.4L1321.6 354.9L1322.7 355.3L1323.9 355.8L1325.1 356.2L1326.3 356.6L1327.6 357.0L1328.9 357.3L1330.2 357.6L1331.5 357.8L1332.8 358.0L1334.2 358.1L1335.8 358.3L1337.4 358.5L1338.6 358.6L1339.9 358.7L1341.3 358.8L1342.7 359.0L1344.1 359.1L1345.6 359.2L1347.0 359.3L1348.3 359.4L1349.6 359.5L1351.1 359.6L1352.6 359.8L1354.0 359.9L1355.3 360.0L1356.7 360.1L1358.0 360.1L1359.3 360.1L1360.8 360.0L1362.2 359.7L1363.6 359.4L1365.0 359.0L1366.4 358.6L1367.8 358.3L1369.2 358.0L1370.7 357.6L1372.1 357.3L1373.6 357.0L1375.0 356.8L1376.3 356.7L1377.8 356.7L1379.2 356.9L1380.6 357.1L1382.0 357.4L1383.6 357.7L1384.8 357.9L1386.1 358.2L1387.5 358.4L1388.9 358.7L1390.3 359.0L1391.8 359.3L1393.3 359.6L1394.5 359.8L1395.7 360.0L1396.9 360.2L1398.2 360.4L1399.4 360.6L1400.8 360.8L1402.2 361.0L1403.8 361.1L1405.5 361.3L1406.7 361.4L1408.0 361.5L1409.3 361.6L1410.7 361.7L1412.1 361.8L1413.6 361.9L1415.1 362.0L1416.6 362.1L1418.2 362.2L1419.8 362.3L1421.5 362.4L1423.2 362.4L1424.9 362.5L1426.2 362.6L1427.5 362.6L1428.9 362.7L1430.2 362.8L1431.6 362.8L1433.0 362.9L1434.4 362.9L1435.8 363.0L1437.2 363.0L1438.7 363.1L1440.2 363.1L1441.8 363.2L1443.3 363.2L1444.9 363.3L1446.6 363.4L1448.2 363.4L1449.9 363.4L1451.7 363.5L1453.0 363.5L1454.3 363.6L1455.6 363.6L1457.0 363.6L1458.4 363.7L1459.8 363.7L1461.2 363.7L1462.6 363.8L1464.1 363.8L1465.6 363.8L1467.1 363.8L1468.6 363.9L1470.1 363.9L1471.6 363.9L1473.1 364.0L1474.6 364.0L1476.2 364.0L1477.7 364.0L1479.2 364.1L1480.7 364.1L1482.2 364.1L1483.7 364.2L1485.2 364.2L1486.7 364.2L1488.2 364.2L1489.6 364.2L1491.1 364.3L1492.5 364.3L1494.0 364.3L1495.5 364.3L1496.9 364.4L1498.4 364.4L1499.8 364.4L1501.3 364.4L1502.8 364.4L1504.2 364.5L1505.7 364.5L1507.1 364.5L1508.6 364.5L1510.0 364.5L1511.5 364.6L1513.0 364.6L1514.4 364.6L1515.9 364.6L1517.3 364.6L1518.8 364.6L1520.3 364.7L1521.7 364.7L1523.2 364.7L1524.6 364.7L1526.1 364.7L1527.4 364.7L1528.8 364.8L1530.0 364.8L1531.3 364.8L1532.5 364.8L1533.7 364.8L1534.9 364.8L1536.1 364.8L1537.3 364.8L1538.5 364.8L1539.8 364.8L1541.0 364.9L1542.3 364.9L1543.7 364.9L1545.1 364.9L1546.5 364.9L1548.0 364.9L1549.6 364.9L1551.3 364.9L1553.0 364.9L1554.9 364.9L1556.8 364.9L1558.9 364.9L1561.1 365.0L1562.2 365.0L1563.4 365.0L1564.7 365.0L1566.0 365.0L1567.3 365.0L1568.7 365.0L1570.1 365.0L1571.6 365.0L1573.1 365.0L1574.7 365.0L1576.3 365.0L1577.9 365.0L1579.5 365.0L1581.2 365.0L1582.9 365.0L1584.6 365.0L1586.3 365.0L1588.1 365.0L1589.8 365.1L1591.6 365.1L1593.4 365.1L1595.1 365.1L1596.9 365.1L1598.7 365.1L1600.5 365.1L1602.2 365.1L1604.0 365.1L1605.8 365.1L1607.5 365.1L1609.2 365.1L1610.9 365.1L1612.6 365.1L1614.3 365.1L1615.9 365.1L1617.5 365.1L1619.1 365.1L1620.6 365.1L1622.1 365.2L1623.6 365.2L1625.0 365.2L1626.4 365.2L1627.8 365.2L1629.0 365.2L1630.3 365.2L1631.4 365.2L1632.6 365.2L1633.6 365.2L1634.6 365.2L1635.6 365.2L1636.4 365.2L1637.2 365.2L1638.6 365.2" fill="none" stroke="#000" stroke-width="3.4" stroke-linejoin="miter" stroke-miterlimit="2.5" stroke-linecap="butt"/>
<path d="M948.5 297.8L949.0 297.7L949.9 297.5L951.1 297.3L952.4 297.1L953.9 296.8L955.4 296.5L956.8 296.1L958.1 295.6L959.4 295.1L960.7 294.5L962.0 293.8L963.3 293.1L964.6 292.3L965.7 291.5L966.8 290.7L968.0 289.9L969.1 289.0L970.2 288.0L971.3 287.1L972.3 286.1L973.3 285.0L974.3 283.9L975.3 282.8L976.2 281.6L977.1 280.4L978.0 279.2L978.8 277.9L979.6 276.7L980.4 275.3L981.2 274.0L981.9 272.6L982.6 271.3L983.3 270.0L984.0 268.7L984.7 267.3L985.4 266.0L986.0 264.7L986.6 263.4L987.2 262.1L987.9 260.8L988.5 259.6L989.2 258.2L989.9 256.9L990.5 255.7L991.2 254.6L991.8 253.6L992.9 252.2L994.0 251.2L995.0 250.5L996.3 249.9L997.6 249.8L998.6 249.9L999.7 250.2L1000.8 250.7L1001.7 251.4L1002.6 252.1L1003.6 253.1L1004.7 254.4L1005.4 255.3L1006.2 256.2L1007.0 257.3L1007.9 258.5L1008.8 259.6L1009.7 260.7L1010.5 261.7L1011.2 262.6L1012.7 264.1L1014.2 265.3L1015.3 266.1L1015.7 266.5L1015.8 266.7L1016.0 267.4L1016.4 268.4L1016.8 269.8L1017.3 271.3L1017.9 273.0L1018.5 274.7L1019.1 276.5L1019.6 278.1L1020.0 279.4L1020.5 280.7L1020.9 282.1L1021.4 283.6L1021.9 285.1L1022.4 286.7L1022.9 288.2L1023.4 289.7L1023.9 291.1L1024.4 292.5L1024.9 293.8L1025.5 295.0L1026.2 296.6L1027.1 298.1L1027.9 299.4L1028.7 300.7L1029.6 301.8L1030.4 302.9L1031.2 304.0L1031.9 305.0L1032.9 306.2L1033.8 307.2L1034.7 308.2L1035.6 309.0L1036.5 309.8L1037.4 310.6L1038.6 311.4L1039.8 312.1L1041.0 312.7L1042.3 313.4L1043.5 314.2L1044.5 315.1L1045.6 316.1L1046.6 317.2L1047.6 318.3L1048.6 319.3L1049.6 320.0L1050.9 320.9L1052.1 321.5L1053.2 321.9L1054.4 322.0L1055.7 321.7L1056.9 321.1L1058.2 320.4L1059.3 320.0L1060.5 320.0L1061.6 320.3L1062.9 321.3L1063.8 322.1L1064.7 323.1L1065.6 324.3L1066.6 325.6L1067.5 326.8L1068.4 327.9L1069.4 329.1L1070.3 330.2L1071.2 331.2L1072.0 332.2L1072.9 333.1L1073.9 334.0L1074.9 334.7L1075.8 335.3L1076.8 335.8L1078.1 336.3L1079.4 336.6L1080.7 336.7L1082.0 336.6L1083.3 336.4L1084.6 336.0L1085.5 335.6L1086.4 335.0L1087.3 334.4L1088.5 333.6L1089.3 332.9L1090.2 332.2L1091.2 331.3L1092.2 330.5L1093.2 329.6L1094.3 328.7L1095.4 327.8L1096.5 326.7L1097.7 325.7L1098.9 324.7L1100.0 323.7L1101.1 322.9L1102.4 321.9L1103.6 321.1L1104.8 320.4L1105.9 319.7L1106.9 319.0L1108.3 317.9L1109.8 316.8L1110.9 315.9L1111.3 315.6L1111.8 315.9L1112.9 316.7L1114.3 317.8L1115.7 319.0L1116.9 320.1L1118.3 321.4L1119.6 322.7L1120.6 323.7L1121.0 324.1L1121.8 324.1L1123.6 324.1L1125.4 323.8L1126.6 323.4L1127.8 322.9L1129.0 322.2L1130.3 321.4L1131.2 320.8L1132.2 320.1L1133.2 319.3L1134.2 318.5L1135.2 317.5L1136.1 316.5L1136.9 315.6L1137.6 314.5L1138.3 313.3L1139.0 312.1L1139.7 310.9L1140.3 309.8L1141.0 308.8L1141.9 307.2L1143.0 305.6L1143.9 304.2L1144.6 303.1L1144.9 302.7L1151.2 304.1L1151.3 304.4L1151.5 305.2L1151.9 306.5L1152.4 308.0L1153.0 309.7L1153.5 311.5L1154.1 313.1L1154.6 314.6L1155.1 315.9L1155.5 317.3L1156.0 318.8L1156.5 320.2L1157.0 321.6L1157.5 322.9L1158.0 324.1L1158.5 325.3L1159.1 326.7L1159.8 327.9L1160.4 329.1L1161.1 330.2L1161.7 331.1L1162.4 332.1L1163.3 333.4L1164.3 334.5L1165.3 335.5L1166.3 336.5L1167.2 337.3L1168.2 338.1L1169.1 338.8L1170.2 339.4L1171.2 339.9L1172.4 340.4L1173.5 340.7L1174.5 340.9L1175.7 340.8L1176.8 340.6L1177.9 340.1L1178.9 339.5L1179.9 338.8L1180.9 338.0L1181.8 337.4L1183.4 336.7L1184.3 336.5L1189.1 337.0L1189.4 337.3L1190.3 338.3L1191.4 339.5L1192.5 340.8L1193.5 341.8L1194.5 342.8L1195.6 343.8L1196.5 344.6L1197.4 345.2L1198.6 345.7L1199.8 345.7L1200.9 345.6L1202.0 345.3L1203.2 344.7L1204.1 344.0L1205.1 343.0L1206.1 341.9L1207.1 340.9L1208.0 339.9L1209.0 338.9L1210.0 337.8L1211.0 336.9L1212.0 336.2L1213.1 335.6L1214.2 335.2L1215.3 335.0L1216.4 335.0L1217.4 335.2L1218.5 335.6L1219.6 336.2L1220.7 336.8L1221.9 337.4L1223.2 338.2L1224.5 339.0L1225.6 339.9L1226.5 340.7L1227.2 341.5L1228.0 342.4L1229.0 343.3L1229.9 343.9L1230.9 344.6L1231.9 345.3L1233.1 345.9L1234.3 346.5L1235.6 347.0L1236.8 347.4L1238.1 347.7L1239.5 348.0L1240.9 348.3L1242.3 348.5L1243.7 348.6L1245.0 348.7L1246.5 348.6L1247.9 348.5L1249.3 348.2L1250.7 347.9L1252.1 347.6L1253.5 347.2L1254.7 346.8L1256.0 346.3L1257.2 345.8L1258.5 345.3L1259.7 344.7L1260.9 344.2L1262.0 343.8L1263.3 343.4L1264.6 342.9L1265.8 342.5L1267.0 342.2L1268.2 342.0L1269.3 341.9L1270.6 341.9L1271.8 342.0L1272.9 342.3L1274.1 342.7L1275.4 343.1L1276.5 343.5L1277.7 344.1L1278.9 344.7L1280.1 345.2L1281.4 345.8L1282.7 346.2L1284.0 346.5L1285.4 346.8L1286.9 347.0L1288.3 347.1L1289.8 347.3L1291.2 347.4L1292.6 347.7L1294.0 347.9L1295.5 348.2L1296.9 348.4L1298.3 348.6L1299.7 348.7L1301.1 348.7L1302.6 348.6L1304.0 348.4L1305.5 348.2L1306.9 348.1L1308.2 347.9L1309.8 347.8L1311.3 347.6L1312.7 347.4L1314.2 347.4L1315.5 347.4L1316.8 347.7L1318.0 348.1L1319.1 348.6L1320.3 349.1L1321.6 349.6L1322.7 350.1L1323.9 350.7L1325.1 351.2L1326.3 351.8L1327.6 352.3L1328.9 352.8L1330.2 353.2L1331.5 353.5L1332.8 353.8L1334.2 354.0L1335.8 354.3L1337.4 354.5L1338.6 354.6L1339.9 354.7L1341.2 354.8L1342.6 354.9L1344.0 355.0L1345.4 355.1L1346.8 355.2L1348.2 355.3L1349.6 355.5L1350.9 355.6L1352.3 355.8L1353.6 356.0L1355.0 356.2L1356.3 356.4L1357.7 356.6L1359.0 356.8L1360.4 357.0L1361.7 357.2L1363.1 357.3L1364.4 357.4L1365.8 357.5L1367.1 357.6L1368.5 357.7L1369.8 357.8L1371.2 357.9L1372.5 358.0L1373.9 358.1L1375.2 358.3L1376.5 358.4L1377.8 358.6L1379.1 358.8L1380.5 358.9L1381.8 359.1L1383.2 359.3L1384.6 359.5L1386.0 359.6L1387.4 359.7L1388.6 359.9L1389.9 360.0L1391.2 360.1L1392.6 360.3L1394.0 360.4L1395.5 360.5L1397.0 360.6L1398.8 360.7L1400.6 360.8L1401.8 360.9L1403.0 360.9L1404.3 360.9L1405.6 361.0L1407.0 361.0L1408.4 361.0L1409.8 361.0L1411.3 361.1L1412.8 361.1L1414.3 361.1L1415.8 361.1L1417.3 361.2L1418.8 361.2L1420.4 361.2L1421.9 361.2L1423.4 361.3L1424.9 361.3L1426.4 361.3L1427.8 361.4L1429.1 361.4L1430.5 361.5L1431.9 361.5L1433.3 361.6L1434.7 361.6L1436.1 361.7L1437.6 361.8L1439.0 361.8L1440.5 361.9L1442.0 361.9L1443.5 362.0L1445.0 362.1L1446.6 362.1L1448.3 362.2L1450.0 362.2L1451.7 362.3L1453.0 362.3L1454.3 362.4L1455.6 362.4L1457.0 362.4L1458.4 362.5L1459.8 362.5L1461.2 362.6L1462.6 362.6L1464.1 362.6L1465.6 362.7L1467.1 362.7L1468.6 362.8L1470.1 362.8L1471.6 362.8L1473.1 362.9L1474.6 362.9L1476.2 363.0L1477.7 363.0L1479.2 363.0L1480.7 363.1L1482.2 363.1L1483.7 363.1L1485.2 363.2L1486.7 363.2L1488.2 363.3L1489.6 363.3L1491.1 363.3L1492.5 363.4L1494.0 363.4L1495.5 363.4L1496.9 363.5L1498.4 363.5L1499.8 363.5L1501.3 363.6L1502.8 363.6L1504.2 363.6L1505.7 363.6L1507.1 363.7L1508.6 363.7L1510.0 363.7L1511.5 363.8L1513.0 363.8L1514.4 363.8L1515.9 363.8L1517.3 363.9L1518.8 363.9L1520.3 363.9L1521.7 363.9L1523.2 364.0L1524.6 364.0L1526.1 364.0L1527.4 364.0L1528.8 364.0L1530.0 364.0L1531.3 364.1L1532.5 364.1L1533.7 364.1L1534.9 364.1L1536.1 364.1L1537.3 364.1L1538.5 364.1L1539.8 364.1L1541.0 364.1L1542.3 364.1L1543.7 364.2L1545.1 364.2L1546.5 364.2L1548.0 364.2L1549.6 364.2L1551.3 364.2L1553.0 364.2L1554.9 364.2L1556.8 364.2L1558.9 364.2L1561.1 364.2L1562.2 364.2L1563.4 364.2L1564.7 364.2L1566.0 364.2L1567.3 364.2L1568.7 364.3L1570.1 364.3L1571.6 364.3L1573.1 364.3L1574.7 364.3L1576.3 364.3L1577.9 364.3L1579.5 364.3L1581.2 364.3L1582.9 364.3L1584.6 364.3L1586.3 364.3L1588.1 364.3L1589.8 364.3L1591.6 364.3L1593.4 364.3L1595.1 364.3L1596.9 364.3L1598.7 364.4L1600.5 364.4L1602.2 364.4L1604.0 364.4L1605.8 364.4L1607.5 364.4L1609.2 364.4L1610.9 364.4L1612.6 364.4L1614.3 364.4L1615.9 364.4L1617.5 364.4L1619.1 364.4L1620.6 364.4L1622.1 364.4L1623.6 364.4L1625.0 364.4L1626.4 364.4L1627.8 364.4L1629.0 364.4L1630.3 364.4L1631.4 364.5L1632.6 364.5L1633.6 364.5L1634.6 364.5L1635.6 364.5L1636.4 364.5L1637.2 364.5L1638.6 364.5" fill="none" stroke="#f00" stroke-width="3.4" stroke-linejoin="miter" stroke-miterlimit="2.5" stroke-linecap="butt"/>
<path d="M948.5 496.6L949.4 496.6L950.3 496.5L951.6 496.5L953.0 496.5L954.6 496.4L956.3 496.4L957.9 496.2L959.6 496.0L960.9 495.8L962.2 495.6L963.6 495.4L965.0 495.1L966.4 494.8L967.8 494.4L969.2 494.1L970.5 493.7L971.7 493.3L973.1 492.7L974.4 492.2L975.7 491.5L977.0 490.9L978.2 490.3L979.4 489.7L980.4 489.1L981.5 488.6L983.0 488.0L984.3 487.4L985.4 486.8L986.5 486.3L987.6 485.9L989.1 485.3L990.4 485.0L991.7 485.2L992.6 485.7L993.5 486.5L994.4 487.6L995.3 489.0L995.9 490.2L996.4 491.5L996.9 493.0L997.4 494.5L997.9 496.0L998.5 497.4L999.0 498.7L999.7 500.2L1000.4 501.5L1001.2 502.7L1001.9 503.8L1002.6 504.6L1003.8 505.7L1004.9 506.2L1006.3 506.3L1007.3 506.0L1008.5 505.5L1009.7 504.9L1011.0 504.2L1012.4 503.3L1013.3 502.7L1014.4 501.9L1015.5 501.1L1016.5 500.3L1017.6 499.5L1018.7 498.7L1019.7 498.0L1021.0 497.1L1022.3 496.2L1023.5 495.4L1024.7 494.8L1025.7 494.3L1027.1 494.1L1028.2 494.2L1029.4 494.8L1030.3 495.5L1031.2 496.4L1032.1 497.4L1033.2 498.4L1034.2 499.2L1035.4 499.9L1036.6 500.6L1037.8 501.2L1039.1 501.7L1040.3 502.1L1041.5 502.4L1042.7 502.6L1043.9 502.7L1045.1 502.7L1046.4 502.6L1047.7 502.4L1049.0 502.1L1050.4 501.8L1051.8 501.3L1053.2 500.9L1054.4 500.5L1055.6 500.1L1056.8 499.7L1058.1 499.3L1059.3 498.9L1060.5 498.5L1061.9 498.1L1063.4 497.6L1064.8 497.3L1066.3 497.0L1067.8 496.8L1069.1 496.7L1070.5 496.8L1071.9 496.9L1073.3 497.1L1074.8 497.2L1076.3 497.3L1077.6 497.2L1079.0 497.2L1080.5 497.1L1081.9 497.0L1083.3 496.9L1084.7 496.8L1086.0 496.8L1087.6 496.7L1089.1 496.7L1090.5 496.7L1091.9 496.7L1093.3 496.6L1094.5 496.5L1095.9 496.4L1097.1 496.3L1098.2 496.2L1099.4 495.9L1100.6 495.5L1101.8 495.0L1102.9 494.4L1104.1 493.7L1105.4 492.9L1106.6 492.1L1107.9 491.2L1109.1 490.4L1110.2 489.6L1111.4 488.7L1112.6 487.8L1113.9 486.9L1115.1 486.0L1116.4 485.0L1117.6 484.2L1118.8 483.4L1120.0 482.6L1121.2 481.7L1122.5 480.9L1123.7 480.0L1124.9 479.1L1126.2 478.2L1127.2 477.4L1128.3 476.6L1129.4 475.8L1130.5 474.9L1131.6 474.1L1132.6 473.2L1133.7 472.3L1134.8 471.4L1135.9 470.5L1137.0 469.6L1138.1 468.6L1139.2 467.6L1140.3 466.5L1141.5 465.5L1142.5 464.5L1143.6 463.5L1144.6 462.6L1145.6 461.8L1146.8 460.8L1147.9 459.9L1149.0 459.1L1150.0 458.4L1151.0 457.7L1151.9 457.0L1152.9 456.4L1154.2 455.7L1155.5 455.1L1156.7 454.6L1157.9 454.3L1159.0 454.0L1160.3 453.7L1161.5 453.6L1162.7 453.7L1163.8 454.0L1165.0 454.4L1166.2 455.1L1167.4 455.9L1168.7 457.1L1169.5 458.0L1170.4 459.1L1171.2 460.3L1172.1 461.5L1173.0 462.8L1173.9 464.0L1174.8 465.2L1175.7 466.3L1176.5 467.5L1177.4 468.7L1178.3 469.8L1179.1 470.9L1180.0 472.0L1180.9 472.9L1181.9 474.0L1182.9 474.9L1183.9 475.8L1184.9 476.6L1185.9 477.2L1186.9 477.8L1188.1 478.4L1189.3 478.8L1190.5 479.0L1191.7 479.2L1193.0 479.3L1194.4 479.2L1195.9 479.1L1197.3 478.8L1198.8 478.5L1200.3 478.3L1201.8 478.0L1203.3 477.7L1204.8 477.4L1206.2 477.1L1207.6 477.1L1208.9 477.2L1210.1 477.6L1211.2 478.0L1212.4 478.5L1213.7 479.0L1214.9 479.5L1216.1 480.1L1217.3 480.7L1218.6 481.2L1219.8 481.8L1221.0 482.2L1222.3 482.6L1223.5 482.9L1224.7 483.2L1225.9 483.3L1227.1 483.4L1228.3 483.4L1229.4 483.3L1230.6 483.2L1231.9 483.0L1233.1 482.7L1234.3 482.3L1235.4 481.9L1236.6 481.4L1237.9 481.0L1239.1 480.6L1240.4 480.2L1241.8 480.0L1243.2 479.9L1244.6 479.8L1246.1 479.7L1247.5 479.7L1249.0 479.8L1250.4 479.8L1251.8 479.9L1253.2 480.0L1254.6 480.2L1256.0 480.5L1257.5 480.7L1258.9 481.1L1260.3 481.5L1261.7 482.1L1263.1 482.6L1264.6 483.0L1266.0 483.4L1267.4 483.7L1268.9 483.9L1270.4 484.0L1271.8 484.1L1273.2 484.3L1274.5 484.6L1275.8 485.1L1277.0 485.6L1278.2 486.2L1279.3 486.8L1280.6 487.5L1281.7 488.2L1282.9 489.0L1284.1 489.8L1285.4 490.6L1286.6 491.3L1287.9 491.9L1289.3 492.5L1290.7 492.9L1292.1 493.2L1293.6 493.4L1295.2 493.6L1296.5 493.7L1297.9 493.8L1299.3 493.8L1300.8 493.8L1302.2 493.7L1303.7 493.6L1305.1 493.5L1306.5 493.3L1307.9 493.1L1309.3 492.8L1310.8 492.6L1312.2 492.4L1313.6 492.2L1315.1 491.9L1316.5 491.7L1317.9 491.5L1319.3 491.4L1320.7 491.4L1322.0 491.6L1323.2 491.8L1324.3 492.2L1325.5 492.6L1326.7 493.1L1328.0 493.6L1329.1 494.2L1330.3 494.9L1331.5 495.7L1332.8 496.5L1334.0 497.2L1335.3 497.9L1336.5 498.5L1338.0 499.0L1339.5 499.3L1341.0 499.6L1342.5 499.8L1343.8 500.0L1345.0 500.2L1346.4 500.5L1347.4 500.7L1348.3 500.9L1349.6 500.9L1350.8 500.8L1352.3 500.5L1353.8 500.2L1355.4 499.9L1356.9 499.7L1358.3 499.5L1359.8 499.3L1361.2 499.2L1362.7 499.0L1364.1 499.0L1365.6 498.9L1367.0 498.9L1368.4 498.9L1369.8 499.0L1371.4 499.2L1372.7 499.4L1374.0 499.7L1375.3 500.1L1376.7 500.5L1378.1 500.9L1379.6 501.3L1381.2 501.6L1382.4 501.9L1383.7 502.2L1385.0 502.5L1386.4 502.8L1387.8 503.1L1389.2 503.4L1390.6 503.6L1392.0 503.9L1393.3 504.1L1394.7 504.3L1396.0 504.5L1397.4 504.6L1398.7 504.8L1400.1 504.9L1401.4 505.0L1402.8 505.1L1404.1 505.2L1405.5 505.3L1406.8 505.3L1408.2 505.3L1409.5 505.3L1410.9 505.3L1412.2 505.2L1413.6 505.2L1414.9 505.1L1416.3 505.1L1417.6 505.0L1419.0 505.0L1420.4 505.0L1421.8 504.9L1423.2 504.9L1424.6 504.8L1425.9 504.8L1427.3 504.8L1428.6 504.8L1429.8 504.8L1431.3 504.8L1432.8 504.9L1434.1 505.0L1435.5 505.1L1436.8 505.2L1438.2 505.4L1439.5 505.5L1440.9 505.7L1442.3 506.0L1443.7 506.2L1445.1 506.5L1446.5 506.8L1447.9 507.1L1449.3 507.5L1450.6 507.9L1452.0 508.3L1453.4 508.7L1454.8 509.2L1456.2 509.6L1457.6 510.1L1459.0 510.6L1460.2 511.1L1461.4 511.6L1462.6 512.1L1463.8 512.7L1465.1 513.2L1466.3 513.7L1467.5 514.3L1468.7 514.8L1470.1 515.4L1471.5 515.9L1472.9 516.5L1474.3 517.1L1475.7 517.7L1477.0 518.2L1478.4 518.7L1479.8 519.1L1481.2 519.5L1482.6 519.9L1484.0 520.2L1485.4 520.5L1486.8 520.8L1488.2 521.1L1489.6 521.3L1490.9 521.6L1492.3 521.8L1493.7 521.9L1495.1 522.1L1496.5 522.2L1497.9 522.3L1499.3 522.4L1500.7 522.4L1502.1 522.5L1503.4 522.5L1504.8 522.5L1506.2 522.4L1507.6 522.3L1509.0 522.2L1510.4 522.0L1511.8 521.8L1513.2 521.6L1514.6 521.4L1516.0 521.1L1517.3 520.9L1518.7 520.6L1520.1 520.3L1521.5 519.9L1522.9 519.6L1524.3 519.2L1525.7 518.8L1527.1 518.4L1528.5 518.0L1529.8 517.5L1531.2 517.0L1532.6 516.5L1534.0 516.0L1535.4 515.5L1536.8 515.0L1538.2 514.5L1539.6 513.9L1541.1 513.4L1542.5 512.8L1543.9 512.3L1545.3 511.8L1546.5 511.4L1548.1 510.9L1549.5 510.6L1550.8 510.3L1552.2 510.1L1553.8 509.9L1555.1 509.8L1556.3 509.7L1557.7 509.6L1559.1 509.6L1560.5 509.5L1562.0 509.5L1563.5 509.4L1564.8 509.4L1566.0 509.3L1567.3 509.3L1568.6 509.2L1570.0 509.1L1571.4 509.1L1572.8 509.0L1574.2 509.0L1575.7 508.9L1577.1 508.9L1578.5 508.9L1580.0 508.9L1581.5 508.8L1583.0 508.8L1584.5 508.8L1586.0 508.8L1587.5 508.8L1588.9 508.7L1590.3 508.7L1591.8 508.6L1593.2 508.6L1594.6 508.5L1596.0 508.5L1597.3 508.4L1598.7 508.4L1600.0 508.3L1601.2 508.3L1602.4 508.2L1604.0 508.1L1605.4 508.1L1606.8 508.0L1608.1 507.9L1609.5 507.8L1610.8 507.8L1612.2 507.7L1613.6 507.7L1615.0 507.6L1616.4 507.5L1617.8 507.5L1619.2 507.5L1620.6 507.5L1621.9 507.5L1623.4 507.5L1624.9 507.6L1626.3 507.8L1627.7 507.9L1629.1 508.1L1630.4 508.2L1632.0 508.4L1633.5 508.6L1635.0 508.8L1636.2 509.0L1637.2 509.2L1638.6 509.4" fill="none" stroke="#000" stroke-width="3.4" stroke-linejoin="miter" stroke-miterlimit="2.5" stroke-linecap="butt"/>
<path d="M948.5 492.5L949.4 492.4L950.3 492.3L951.6 492.2L953.0 492.0L954.6 491.8L956.3 491.7L957.9 491.4L959.6 491.2L960.9 491.0L962.2 490.8L963.6 490.5L965.0 490.3L966.4 490.0L967.8 489.7L969.2 489.4L970.5 489.1L971.7 488.8L973.1 488.3L974.4 487.8L975.7 487.3L977.0 486.7L978.2 486.1L979.4 485.6L980.4 485.1L981.5 484.6L983.0 484.0L984.3 483.4L985.5 483.0L986.6 482.5L987.6 482.2L988.9 481.7L990.1 481.4L991.2 481.5L992.4 481.8L993.6 482.5L994.8 483.9L995.4 484.8L995.9 485.9L996.4 487.2L996.9 488.5L997.5 489.9L998.0 491.2L998.5 492.4L999.1 493.7L999.7 495.1L1000.3 496.5L1000.9 497.7L1001.5 498.8L1002.1 499.7L1003.3 500.9L1004.4 501.6L1005.8 501.6L1006.8 501.4L1008.0 500.8L1009.2 500.1L1010.5 499.3L1011.9 498.5L1012.9 497.8L1013.9 497.1L1015.0 496.3L1016.1 495.4L1017.1 494.6L1018.2 493.8L1019.2 493.1L1020.5 492.2L1021.8 491.4L1023.0 490.6L1024.2 490.0L1025.2 489.5L1026.6 489.0L1027.7 488.9L1028.9 489.2L1029.8 489.7L1030.7 490.5L1031.7 491.4L1032.7 492.3L1033.8 493.1L1034.9 494.0L1036.1 494.9L1037.3 495.8L1038.6 496.6L1039.8 497.3L1041.0 497.8L1042.3 498.3L1043.5 498.7L1044.7 499.0L1045.9 499.2L1047.1 499.3L1048.3 499.2L1049.5 499.1L1050.7 498.8L1052.0 498.5L1053.1 498.1L1054.3 497.7L1055.6 497.2L1056.8 496.6L1058.1 496.1L1059.3 495.6L1060.5 495.0L1061.7 494.5L1062.9 493.9L1064.1 493.4L1065.4 492.8L1066.6 492.4L1068.1 491.9L1069.6 491.5L1071.0 491.2L1072.5 490.9L1073.9 490.7L1075.2 490.6L1076.4 490.5L1077.6 490.5L1078.8 490.6L1080.0 490.7L1081.2 490.9L1082.3 491.2L1083.5 491.6L1084.7 492.0L1086.0 492.4L1087.2 492.8L1088.4 493.2L1089.7 493.7L1090.9 494.2L1092.2 494.6L1093.3 494.8L1094.6 495.0L1095.8 495.2L1096.9 495.2L1098.1 495.1L1099.4 494.8L1100.5 494.5L1101.7 494.0L1102.9 493.4L1104.1 492.8L1105.4 492.0L1106.7 491.2L1107.7 490.5L1108.7 489.7L1109.8 488.9L1110.8 488.0L1111.9 487.1L1113.0 486.1L1114.1 485.2L1115.2 484.4L1116.4 483.5L1117.6 482.7L1118.8 481.9L1120.0 481.0L1121.2 480.2L1122.5 479.4L1123.7 478.6L1124.9 477.8L1126.2 477.0L1127.4 476.3L1128.6 475.6L1129.8 474.9L1131.0 474.2L1132.2 473.4L1133.4 472.6L1134.7 471.7L1135.8 470.9L1136.9 470.0L1138.0 469.0L1139.1 468.0L1140.2 467.0L1141.3 466.0L1142.4 465.0L1143.4 464.1L1144.4 463.2L1145.6 462.1L1146.7 461.0L1147.8 460.0L1148.9 459.0L1149.9 458.0L1150.8 457.2L1151.7 456.4L1153.1 455.4L1154.3 454.6L1155.4 454.0L1156.6 453.5L1158.1 452.9L1159.5 452.6L1160.9 452.5L1162.3 452.7L1163.7 453.2L1165.1 454.0L1166.0 454.7L1166.8 455.7L1167.7 456.8L1168.7 458.4L1169.3 459.3L1169.8 460.4L1170.4 461.7L1171.1 463.0L1171.7 464.3L1172.3 465.6L1173.0 466.9L1173.6 468.1L1174.3 469.4L1174.9 470.7L1175.6 472.0L1176.3 473.2L1177.0 474.4L1177.7 475.5L1178.4 476.6L1179.4 477.7L1180.4 478.8L1181.4 479.8L1182.4 480.7L1183.5 481.5L1184.5 482.2L1185.7 482.9L1187.0 483.4L1188.2 483.8L1189.5 484.1L1190.6 484.4L1191.9 484.6L1193.1 484.7L1194.3 484.6L1195.5 484.4L1196.7 484.0L1197.9 483.6L1199.1 482.9L1200.3 482.2L1201.3 481.4L1202.3 480.5L1203.2 479.6L1204.2 478.6L1205.2 477.8L1206.3 476.9L1207.5 476.0L1208.7 475.3L1210.0 474.7L1211.3 474.3L1212.8 474.0L1214.3 473.7L1215.8 473.6L1217.3 473.4L1218.8 473.4L1220.2 473.4L1221.6 473.4L1223.1 473.5L1224.6 473.7L1226.0 473.8L1227.4 474.0L1228.8 474.1L1230.3 474.4L1231.7 474.6L1233.1 474.9L1234.6 475.2L1236.0 475.7L1237.5 476.1L1238.9 476.5L1240.3 477.0L1241.7 477.3L1243.2 477.7L1244.7 478.1L1246.1 478.4L1247.5 478.7L1249.0 478.8L1250.4 478.7L1251.9 478.5L1253.3 478.2L1254.8 478.0L1256.2 477.8L1257.7 477.7L1259.1 477.7L1260.5 477.7L1262.0 477.7L1263.5 477.8L1264.9 477.9L1266.3 478.1L1267.7 478.3L1269.2 478.6L1270.6 478.8L1272.1 479.0L1273.5 479.2L1274.9 479.5L1276.3 479.7L1277.7 479.9L1279.1 480.1L1280.6 480.2L1282.0 480.4L1283.4 480.5L1284.8 480.6L1286.2 480.7L1287.7 480.7L1289.1 480.7L1290.5 480.6L1291.9 480.4L1293.3 480.2L1294.7 480.0L1296.1 479.8L1297.6 479.8L1298.9 479.8L1300.3 479.9L1301.8 480.1L1303.2 480.3L1304.7 480.5L1306.0 480.7L1307.3 480.7L1308.9 480.7L1310.5 480.5L1311.9 480.2L1313.3 480.0L1314.6 479.8L1315.9 479.6L1317.1 479.4L1318.2 479.3L1319.4 479.2L1320.7 479.3L1322.0 479.5L1323.5 479.7L1324.9 480.1L1326.4 480.5L1328.0 481.0L1329.3 481.3L1330.7 481.7L1332.2 482.1L1333.6 482.6L1335.1 483.2L1336.5 483.7L1337.6 484.2L1338.7 484.8L1339.9 485.4L1341.1 486.2L1342.2 486.9L1343.2 487.6L1344.2 488.3L1345.0 489.0L1346.1 490.1L1346.8 490.9L1347.4 491.9L1348.3 493.2L1349.1 494.1L1349.9 495.3L1350.8 496.5L1351.7 497.7L1352.6 499.0L1353.5 500.2L1354.4 501.4L1355.3 502.5L1356.2 503.7L1357.0 504.9L1357.9 506.0L1358.8 507.1L1359.6 508.2L1360.5 509.2L1361.5 510.3L1362.5 511.3L1363.5 512.2L1364.5 513.1L1365.5 513.9L1366.6 514.7L1367.7 515.5L1368.8 516.1L1370.0 516.7L1371.2 517.2L1372.5 517.7L1373.9 517.9L1375.1 518.1L1376.4 518.3L1377.7 518.4L1379.1 518.5L1380.6 518.6L1382.1 518.6L1383.6 518.7L1384.8 518.7L1386.1 518.7L1387.5 518.6L1388.8 518.6L1390.2 518.6L1391.6 518.5L1393.0 518.4L1394.4 518.3L1395.8 518.2L1397.1 518.0L1398.5 517.9L1399.8 517.7L1401.2 517.5L1402.5 517.3L1403.9 517.0L1405.2 516.8L1406.6 516.5L1407.9 516.2L1409.3 515.9L1410.6 515.6L1412.0 515.3L1413.3 514.9L1414.7 514.6L1416.0 514.2L1417.4 513.8L1418.7 513.4L1420.1 513.1L1421.4 512.7L1422.8 512.3L1424.1 511.8L1425.5 511.4L1426.8 511.0L1428.2 510.6L1429.5 510.2L1430.9 509.8L1432.2 509.4L1433.6 509.1L1434.9 508.8L1436.3 508.5L1437.6 508.3L1439.0 508.0L1440.3 507.8L1441.7 507.5L1443.0 507.3L1444.4 507.0L1445.8 506.7L1447.1 506.5L1448.5 506.2L1449.9 505.9L1451.3 505.6L1452.7 505.4L1454.0 505.1L1455.3 504.8L1456.6 504.6L1458.1 504.2L1459.6 503.8L1461.0 503.4L1462.4 503.1L1463.7 502.7L1465.0 502.4L1466.3 502.1L1467.9 501.8L1469.4 501.6L1470.8 501.5L1472.2 501.4L1473.6 501.4L1475.0 501.5L1476.5 501.7L1477.9 501.9L1479.4 502.1L1480.9 502.1L1482.3 502.1L1483.7 501.9L1485.1 501.7L1486.5 501.5L1488.2 501.2L1489.4 500.9L1490.8 500.6L1492.2 500.2L1493.6 499.9L1495.0 499.5L1496.5 499.0L1497.9 498.5L1499.1 498.0L1500.4 497.4L1501.6 496.7L1502.9 496.0L1504.1 495.3L1505.4 494.7L1506.5 494.1L1507.6 493.6L1509.0 493.1L1510.3 492.6L1511.5 492.2L1512.7 491.9L1513.8 491.6L1514.9 491.4L1516.2 491.2L1517.4 491.1L1518.6 491.1L1519.8 491.1L1521.0 491.2L1522.2 491.3L1523.4 491.4L1524.5 491.7L1525.8 492.0L1527.1 492.4L1528.2 492.8L1529.3 493.3L1530.5 493.9L1531.7 494.6L1533.0 495.3L1534.4 496.0L1535.5 496.7L1536.6 497.4L1537.8 498.2L1539.1 499.0L1540.3 499.8L1541.6 500.6L1542.9 501.4L1544.1 502.1L1545.3 502.8L1546.6 503.5L1547.8 504.2L1549.1 504.8L1550.3 505.5L1551.6 506.0L1552.7 506.5L1553.8 507.0L1555.4 507.6L1556.9 508.0L1558.3 508.3L1559.7 508.5L1561.1 508.7L1562.5 508.9L1563.9 509.0L1565.3 509.0L1566.8 509.0L1568.4 508.9L1569.6 508.8L1570.9 508.7L1572.3 508.5L1573.7 508.3L1575.1 508.1L1576.6 507.9L1578.1 507.7L1579.4 507.6L1580.7 507.5L1582.1 507.3L1583.5 507.2L1584.9 507.1L1586.3 507.0L1587.7 506.8L1589.0 506.7L1590.3 506.5L1591.8 506.3L1593.2 506.0L1594.6 505.7L1596.0 505.4L1597.3 505.1L1598.6 504.8L1600.0 504.6L1601.4 504.4L1602.8 504.2L1604.2 504.0L1605.6 503.9L1607.0 503.8L1608.4 503.7L1609.7 503.6L1611.1 503.5L1612.5 503.5L1613.9 503.5L1615.3 503.5L1616.7 503.5L1618.1 503.5L1619.5 503.6L1620.9 503.7L1622.3 503.8L1623.7 504.0L1625.1 504.1L1626.5 504.3L1627.9 504.4L1629.2 504.6L1630.7 504.7L1632.2 504.8L1633.7 504.9L1635.1 504.9L1636.3 505.0L1637.2 505.0L1638.6 505.1" fill="none" stroke="#f00" stroke-width="3.4" stroke-linejoin="miter" stroke-miterlimit="2.5" stroke-linecap="butt"/>
</svg>
<g font-family="'Liberation Sans',sans-serif" fill="#000">
<text transform="translate(73.7 196.2) scale(0.965 1.030)" font-size="31.5" text-anchor="end">0</text>
<g transform="translate(74.7 138.6) scale(0.965 1.030)"><text font-size="31.5" text-anchor="end">1</text>
<path d="M-15.92 0.80H-9.60V-3.15H-15.92ZM-6.81 0.80H-0.74V-3.15H-6.81Z" fill="#fff"/></g>
<text transform="translate(73.7 81.1) scale(0.965 1.030)" font-size="31.5" text-anchor="end">2</text>
<text transform="translate(73.7 23.5) scale(0.965 1.030)" font-size="31.5" text-anchor="end">3</text>
<text transform="translate(73.7 368.8) scale(0.965 1.030)" font-size="31.5" text-anchor="end">0</text>
<g transform="translate(74.7 311.3) scale(0.965 1.030)"><text font-size="31.5" text-anchor="end">1</text>
<path d="M-15.92 0.80H-9.60V-3.15H-15.92ZM-6.81 0.80H-0.74V-3.15H-6.81Z" fill="#fff"/></g>
<text transform="translate(73.7 253.7) scale(0.965 1.030)" font-size="31.5" text-anchor="end">2</text>
<text transform="translate(73.7 541.3) scale(0.965 1.030)" font-size="31.5" text-anchor="end">0</text>
<g transform="translate(74.7 483.8) scale(0.965 1.030)"><text font-size="31.5" text-anchor="end">1</text>
<path d="M-15.92 0.80H-9.60V-3.15H-15.92ZM-6.81 0.80H-0.74V-3.15H-6.81Z" fill="#fff"/></g>
<text transform="translate(73.7 426.3) scale(0.965 1.030)" font-size="31.5" text-anchor="end">2</text>
<text transform="translate(84.6 567.5) scale(0.965 1.030)" font-size="31.5" text-anchor="middle">0</text>
<text transform="translate(323.1 567.5) scale(0.965 1.030)" font-size="31.5" text-anchor="middle">3</text>
<text transform="translate(561.7 567.5) scale(0.965 1.030)" font-size="31.5" text-anchor="middle">6</text>
<text transform="translate(800.2 567.5) scale(0.965 1.030)" font-size="31.5" text-anchor="middle">9</text>
<text transform="translate(450.6 606.8) scale(0.990 1.030)" font-size="31.0" text-anchor="middle">Energy(eV)</text>
<text transform="translate(796.8 45.1) scale(1.000 1.000)" font-size="33.5" text-anchor="end">(a)</text>
<text transform="translate(798.5 217.6) scale(1.000 1.000)" font-size="33.5" text-anchor="end">(b)</text>
<text transform="translate(800.0 388.5) scale(1.000 1.000)" font-size="33.5" text-anchor="end">(c)</text>
<path d="M654.7 36.5H711.9" stroke="#000" stroke-width="3.6" stroke-linecap="round"/>
<path d="M654.7 69.0H711.9" stroke="#f00" stroke-width="3.6" stroke-linecap="round"/>
<text transform="translate(718.6 45.7) scale(1.000 1.000)" font-size="26.5" text-anchor="start">x</text>
<text transform="translate(718.6 78.6) scale(1.000 1.000)" font-size="26.5" text-anchor="start">y</text>
<text transform="translate(23.8 295.6) rotate(-90) scale(0.955 1)" font-size="31.5"><tspan font-style="italic">n</tspan>(ω)</text>
<text transform="translate(938.8 202.7) scale(0.935 1.035)" font-size="31.5" text-anchor="end">0.0</text>
<g transform="translate(939.8 153.2) scale(0.935 1.035)"><text font-size="31.5" text-anchor="end">0.1</text>
<path d="M-15.92 0.80H-9.60V-3.15H-15.92ZM-6.81 0.80H-0.74V-3.15H-6.81Z" fill="#fff"/></g>
<text transform="translate(938.8 103.8) scale(0.935 1.035)" font-size="31.5" text-anchor="end">0.2</text>
<text transform="translate(938.8 54.3) scale(0.935 1.035)" font-size="31.5" text-anchor="end">0.3</text>
<text transform="translate(938.8 375.7) scale(0.935 1.035)" font-size="31.5" text-anchor="end">0.0</text>
<g transform="translate(939.8 326.3) scale(0.935 1.035)"><text font-size="31.5" text-anchor="end">0.1</text>
<path d="M-15.92 0.80H-9.60V-3.15H-15.92ZM-6.81 0.80H-0.74V-3.15H-6.81Z" fill="#fff"/></g>
<text transform="translate(938.8 276.8) scale(0.935 1.035)" font-size="31.5" text-anchor="end">0.2</text>
<text transform="translate(938.8 227.4) scale(0.935 1.035)" font-size="31.5" text-anchor="end">0.3</text>
<text transform="translate(938.8 549.0) scale(0.935 1.035)" font-size="31.5" text-anchor="end">0.0</text>
<g transform="translate(939.8 499.5) scale(0.935 1.035)"><text font-size="31.5" text-anchor="end">0.1</text>
<path d="M-15.92 0.80H-9.60V-3.15H-15.92ZM-6.81 0.80H-0.74V-3.15H-6.81Z" fill="#fff"/></g>
<text transform="translate(938.8 450.0) scale(0.935 1.035)" font-size="31.5" text-anchor="end">0.2</text>
<text transform="translate(938.8 400.5) scale(0.935 1.035)" font-size="31.5" text-anchor="end">0.3</text>
<text transform="translate(949.1 574.9) scale(0.935 1.035)" font-size="31.5" text-anchor="middle">0</text>
<text transform="translate(1178.7 574.9) scale(0.935 1.035)" font-size="31.5" text-anchor="middle">3</text>
<text transform="translate(1408.4 574.9) scale(0.935 1.035)" font-size="31.5" text-anchor="middle">6</text>
<text transform="translate(1638.0 574.9) scale(0.935 1.035)" font-size="31.5" text-anchor="middle">9</text>
<text transform="translate(1294.0 609.5) scale(0.954 1.030)" font-size="31.0" text-anchor="middle">Energy(eV)</text>
<path d="M1518.5 44.4H1573.8" stroke="#000" stroke-width="3.35" stroke-linecap="round"/>
<path d="M1518.5 77.1H1573.8" stroke="#f00" stroke-width="3.35" stroke-linecap="round"/>
<text transform="translate(1580.5 54.0) scale(0.960 1.000)" font-size="26.5" text-anchor="start">x</text>
<text transform="translate(1580.5 86.5) scale(0.960 1.000)" font-size="26.5" text-anchor="start">y</text>
<text transform="translate(1637.4 78.5) scale(0.960 1.000)" font-size="33.5" text-anchor="end">(d)</text>
<text transform="translate(1634.8 256.3) scale(0.960 1.000)" font-size="33.5" text-anchor="end">(e)</text>
<text transform="translate(1635.1 427.1) scale(0.960 1.000)" font-size="33.5" text-anchor="end">(f)</text>
<text transform="translate(866.2 302.4) rotate(-90) scale(1 0.97)" font-size="31.5">R(ε)</text>
</g></svg>
</body></html>
